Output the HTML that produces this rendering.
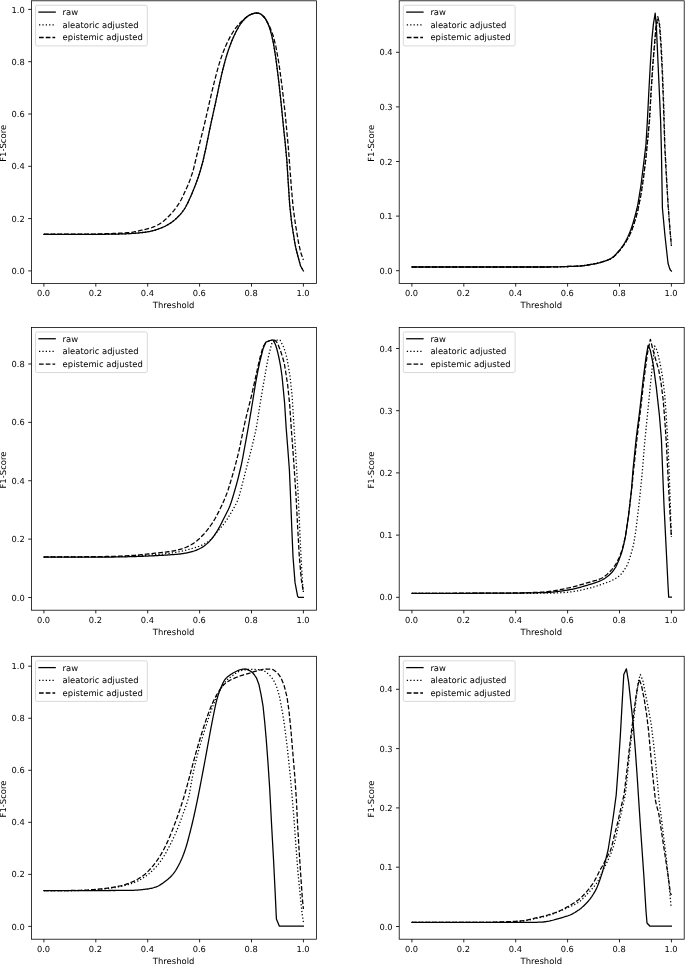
<!DOCTYPE html>
<html lang="en"><head><meta charset="utf-8"><title>F1-Score vs Threshold</title>
<style>html,body{margin:0;padding:0;background:#fff}svg{display:block}</style>
</head><body>
<svg width="685" height="964" viewBox="0 0 685 964" font-family="'DejaVu Sans', 'Liberation Sans', sans-serif" font-size="8.45" fill="#000" text-rendering="geometricPrecision">
<rect width="685" height="964" fill="#fff"/>
<g>
<g fill="none" stroke="#000" stroke-width="1.27" stroke-linejoin="round">
<path d="M43.90 234.40 L44.88 234.40 L45.85 234.40 L46.83 234.40 L47.80 234.40 L48.78 234.40 L49.75 234.40 L50.73 234.40 L51.71 234.40 L52.68 234.40 L53.66 234.40 L54.63 234.40 L55.61 234.40 L56.58 234.40 L57.56 234.40 L58.54 234.40 L59.51 234.40 L60.49 234.40 L61.46 234.40 L62.44 234.40 L63.41 234.40 L64.39 234.40 L65.36 234.40 L66.34 234.40 L67.32 234.40 L68.29 234.40 L69.27 234.40 L70.24 234.40 L71.22 234.40 L72.19 234.40 L73.17 234.40 L74.15 234.40 L75.12 234.40 L76.10 234.40 L77.07 234.40 L78.05 234.40 L79.02 234.40 L80.00 234.40 L81.00 234.40 L82.00 234.40 L83.00 234.40 L84.00 234.40 L85.00 234.39 L86.00 234.39 L87.00 234.39 L88.00 234.38 L89.00 234.38 L90.00 234.37 L91.00 234.37 L92.00 234.36 L93.00 234.36 L94.00 234.35 L95.00 234.34 L96.00 234.34 L97.00 234.33 L98.00 234.32 L99.00 234.31 L100.00 234.30 L101.00 234.29 L102.00 234.28 L103.00 234.27 L104.00 234.26 L105.00 234.25 L106.00 234.24 L107.00 234.23 L108.00 234.22 L109.00 234.21 L110.00 234.20 L111.00 234.19 L112.00 234.17 L113.00 234.16 L114.00 234.14 L115.00 234.12 L116.00 234.10 L117.00 234.07 L118.00 234.04 L119.00 234.02 L120.00 233.99 L121.00 233.96 L122.00 233.92 L123.00 233.89 L124.00 233.85 L125.00 233.81 L126.00 233.77 L127.00 233.73 L128.00 233.69 L129.00 233.65 L130.00 233.60 L130.97 233.55 L131.95 233.49 L132.93 233.43 L133.90 233.35 L134.88 233.28 L135.85 233.19 L136.82 233.10 L137.80 233.01 L138.77 232.91 L139.75 232.81 L140.72 232.71 L141.70 232.60 L142.62 232.50 L143.54 232.39 L144.47 232.27 L145.39 232.15 L146.31 232.02 L147.23 231.88 L148.16 231.73 L149.08 231.57 L150.00 231.40 L151.00 231.19 L152.00 230.96 L153.00 230.70 L154.00 230.43 L155.00 230.13 L156.00 229.81 L157.00 229.48 L158.00 229.13 L159.00 228.77 L160.00 228.40 L161.00 228.01 L162.00 227.60 L163.00 227.17 L164.00 226.71 L165.00 226.23 L166.00 225.71 L167.00 225.18 L168.00 224.61 L169.00 224.02 L170.00 223.40 L171.00 222.74 L172.00 222.03 L173.00 221.27 L174.00 220.46 L175.00 219.61 L176.00 218.71 L177.00 217.77 L178.00 216.78 L179.00 215.76 L180.00 214.70 L181.00 213.57 L182.00 212.33 L183.00 210.99 L184.00 209.55 L185.00 208.00 L186.00 206.30 L187.00 204.41 L188.00 202.39 L189.00 200.27 L190.00 198.10 L190.90 196.10 L191.80 194.02 L192.70 191.86 L193.60 189.63 L194.50 187.35 L195.40 185.00 L196.32 182.55 L197.24 180.03 L198.16 177.42 L199.08 174.68 L200.00 171.80 L203.00 161.00 L205.50 150.00 L206.40 145.74 L207.30 141.31 L208.20 136.82 L209.10 132.35 L210.00 128.00 L210.95 123.57 L211.90 119.22 L212.85 114.93 L213.80 110.65 L214.75 106.35 L215.70 102.00 L216.64 97.59 L217.58 93.10 L218.52 88.61 L219.46 84.22 L220.40 80.00 L221.28 76.18 L222.16 72.42 L223.04 68.77 L223.92 65.28 L224.80 62.00 L225.74 58.69 L226.68 55.52 L227.62 52.51 L228.56 49.67 L229.50 47.00 L230.48 44.36 L231.47 41.84 L232.45 39.44 L233.43 37.16 L234.42 35.01 L235.40 33.00 L236.29 31.27 L237.17 29.59 L238.06 27.98 L238.94 26.45 L239.83 25.02 L240.71 23.69 L241.60 22.50 L242.51 21.36 L243.43 20.27 L244.34 19.24 L245.26 18.29 L246.17 17.42 L247.09 16.66 L248.00 16.00 L249.00 15.38 L250.00 14.84 L251.00 14.38 L252.00 14.00 L253.00 13.66 L254.00 13.33 L255.00 13.09 L256.00 13.00 L259.00 13.40 L260.00 13.75 L261.00 14.32 L262.00 15.09 L263.00 16.00 L264.00 17.00 L264.90 18.09 L265.80 19.47 L266.70 21.10 L267.60 22.96 L268.50 25.00 L269.45 27.53 L270.40 30.58 L271.35 34.09 L272.30 38.00 L273.18 42.15 L274.05 46.97 L274.93 52.30 L275.80 58.00 L278.60 80.00 L281.20 104.00 L284.00 132.00 L285.00 141.00 L286.80 160.00 L288.20 182.00 L289.70 205.00 L291.80 224.00 L295.00 244.00 L295.85 247.95 L296.70 251.48 L297.55 254.77 L298.40 258.00 L300.60 266.00 L303.40 271.00" stroke-linecap="square"/>
<path d="M43.90 234.40 L44.88 234.40 L45.85 234.40 L46.83 234.40 L47.80 234.40 L48.78 234.40 L49.75 234.40 L50.73 234.40 L51.71 234.40 L52.68 234.40 L53.66 234.40 L54.63 234.40 L55.61 234.40 L56.58 234.40 L57.56 234.40 L58.54 234.40 L59.51 234.40 L60.49 234.40 L61.46 234.40 L62.44 234.40 L63.41 234.40 L64.39 234.40 L65.36 234.40 L66.34 234.40 L67.32 234.40 L68.29 234.40 L69.27 234.40 L70.24 234.40 L71.22 234.40 L72.19 234.40 L73.17 234.40 L74.15 234.40 L75.12 234.40 L76.10 234.40 L77.07 234.40 L78.05 234.40 L79.02 234.40 L80.00 234.40 L81.00 234.40 L82.00 234.40 L83.00 234.40 L84.00 234.40 L85.00 234.39 L86.00 234.39 L87.00 234.39 L88.00 234.38 L89.00 234.38 L90.00 234.37 L91.00 234.37 L92.00 234.36 L93.00 234.36 L94.00 234.35 L95.00 234.34 L96.00 234.34 L97.00 234.33 L98.00 234.32 L99.00 234.31 L100.00 234.30 L101.00 234.29 L102.00 234.28 L103.00 234.27 L104.00 234.26 L105.00 234.25 L106.00 234.24 L107.00 234.23 L108.00 234.22 L109.00 234.21 L110.00 234.20 L111.00 234.19 L112.00 234.17 L113.00 234.16 L114.00 234.14 L115.00 234.12 L116.00 234.10 L117.00 234.07 L118.00 234.04 L119.00 234.02 L120.00 233.99 L121.00 233.96 L122.00 233.92 L123.00 233.89 L124.00 233.85 L125.00 233.81 L126.00 233.77 L127.00 233.73 L128.00 233.69 L129.00 233.65 L130.00 233.60 L130.97 233.55 L131.95 233.49 L132.93 233.43 L133.90 233.35 L134.88 233.28 L135.85 233.19 L136.82 233.10 L137.80 233.01 L138.77 232.91 L139.75 232.81 L140.72 232.71 L141.70 232.60 L142.62 232.50 L143.54 232.39 L144.47 232.27 L145.39 232.15 L146.31 232.02 L147.23 231.88 L148.16 231.73 L149.08 231.57 L150.00 231.40 L151.00 231.19 L152.00 230.96 L153.00 230.70 L154.00 230.43 L155.00 230.13 L156.00 229.81 L157.00 229.48 L158.00 229.13 L159.00 228.77 L160.00 228.40 L161.00 228.01 L162.00 227.60 L163.00 227.17 L164.00 226.71 L165.00 226.23 L166.00 225.71 L167.00 225.18 L168.00 224.61 L169.00 224.02 L170.00 223.40 L171.00 222.74 L172.00 222.03 L173.00 221.27 L174.00 220.46 L175.00 219.61 L176.00 218.71 L177.00 217.77 L178.00 216.78 L179.00 215.76 L180.00 214.70 L181.00 213.57 L182.00 212.33 L183.00 210.99 L184.00 209.55 L185.00 208.00 L186.00 206.30 L187.00 204.41 L188.00 202.39 L189.00 200.27 L190.00 198.10 L190.90 196.10 L191.80 194.02 L192.70 191.86 L193.60 189.63 L194.50 187.35 L195.40 185.00 L196.32 182.55 L197.24 180.03 L198.16 177.42 L199.08 174.68 L200.00 171.80 L203.00 161.00 L205.50 150.00 L206.40 145.74 L207.30 141.31 L208.20 136.82 L209.10 132.35 L210.00 128.00 L210.95 123.57 L211.90 119.22 L212.85 114.93 L213.80 110.65 L214.75 106.35 L215.70 102.00 L216.64 97.59 L217.58 93.10 L218.52 88.61 L219.46 84.22 L220.40 80.00 L221.28 76.18 L222.16 72.42 L223.04 68.77 L223.92 65.28 L224.80 62.00 L225.74 58.69 L226.68 55.52 L227.62 52.51 L228.56 49.67 L229.50 47.00 L230.48 44.36 L231.47 41.84 L232.45 39.44 L233.43 37.16 L234.42 35.01 L235.40 33.00 L236.29 31.27 L237.17 29.59 L238.06 27.98 L238.94 26.45 L239.83 25.02 L240.71 23.69 L241.60 22.50 L242.51 21.36 L243.43 20.27 L244.34 19.24 L245.26 18.29 L246.17 17.42 L247.09 16.66 L248.00 16.00 L249.00 15.38 L250.00 14.84 L251.00 14.38 L252.00 14.00 L253.00 13.66 L254.00 13.33 L255.00 13.09 L256.00 13.00 L259.00 13.40 L260.00 13.75 L261.00 14.32 L262.00 15.09 L263.00 16.00 L264.00 17.00 L264.90 18.09 L265.80 19.47 L266.70 21.10 L267.60 22.96 L268.50 25.00 L269.45 27.53 L270.40 30.58 L271.35 34.09 L272.30 38.00 L273.18 42.15 L274.05 46.97 L274.93 52.30 L275.80 58.00 L278.60 80.00 L281.20 104.00 L284.00 132.00 L285.00 141.00 L286.80 160.00 L288.20 182.00 L289.70 205.00 L291.80 224.00 L295.00 244.00 L295.85 247.95 L296.70 251.48 L297.55 254.77 L298.40 258.00 L300.60 266.00 L303.40 271.00" stroke-linecap="butt" stroke-dasharray="1.27 2.10"/>
<path d="M43.90 234.20 L44.88 234.20 L45.85 234.20 L46.83 234.20 L47.80 234.20 L48.78 234.20 L49.75 234.20 L50.73 234.20 L51.71 234.20 L52.68 234.20 L53.66 234.20 L54.63 234.20 L55.61 234.20 L56.58 234.20 L57.56 234.20 L58.54 234.20 L59.51 234.20 L60.49 234.20 L61.46 234.20 L62.44 234.20 L63.41 234.20 L64.39 234.20 L65.36 234.20 L66.34 234.20 L67.32 234.20 L68.29 234.20 L69.27 234.20 L70.24 234.20 L71.22 234.20 L72.19 234.20 L73.17 234.20 L74.15 234.20 L75.12 234.20 L76.10 234.20 L77.07 234.20 L78.05 234.20 L79.02 234.20 L80.00 234.20 L81.00 234.20 L82.00 234.20 L83.00 234.19 L84.00 234.18 L85.00 234.18 L86.00 234.17 L87.00 234.16 L88.00 234.14 L89.00 234.13 L90.00 234.11 L91.00 234.09 L92.00 234.08 L93.00 234.06 L94.00 234.04 L95.00 234.01 L96.00 233.99 L97.00 233.97 L98.00 233.94 L99.00 233.92 L100.00 233.89 L101.00 233.86 L102.00 233.84 L103.00 233.81 L104.00 233.78 L105.00 233.75 L106.00 233.72 L107.00 233.69 L108.00 233.66 L109.00 233.63 L110.00 233.60 L111.00 233.57 L112.00 233.54 L113.00 233.50 L114.00 233.47 L115.00 233.43 L116.00 233.39 L117.00 233.34 L118.00 233.30 L119.00 233.25 L120.00 233.20 L121.00 233.15 L122.00 233.09 L123.00 233.03 L124.00 232.97 L125.00 232.90 L126.00 232.83 L127.00 232.75 L128.00 232.67 L129.00 232.59 L130.00 232.50 L130.97 232.40 L131.95 232.27 L132.93 232.11 L133.90 231.94 L134.88 231.74 L135.85 231.54 L136.82 231.32 L137.80 231.10 L138.77 230.87 L139.75 230.64 L140.72 230.42 L141.70 230.20 L142.62 230.00 L143.54 229.80 L144.47 229.61 L145.39 229.40 L146.31 229.19 L147.23 228.97 L148.16 228.73 L149.08 228.48 L150.00 228.20 L151.00 227.87 L152.00 227.51 L153.00 227.12 L154.00 226.71 L155.00 226.26 L156.00 225.78 L157.00 225.28 L158.00 224.75 L159.00 224.19 L160.00 223.60 L161.00 222.97 L162.00 222.27 L163.00 221.52 L164.00 220.71 L165.00 219.85 L166.00 218.95 L167.00 218.01 L168.00 217.04 L169.00 216.03 L170.00 215.00 L171.00 213.93 L172.00 212.82 L173.00 211.65 L174.00 210.43 L175.00 209.15 L176.00 207.81 L177.00 206.41 L178.00 204.94 L179.00 203.41 L180.00 201.80 L181.00 200.04 L182.00 198.07 L183.00 195.97 L184.00 193.79 L185.00 191.60 L186.00 189.42 L187.00 187.22 L188.00 184.93 L189.00 182.54 L190.00 180.00 L193.10 170.80 L195.70 160.00 L196.56 156.40 L197.42 152.77 L198.28 149.15 L199.14 145.55 L200.00 142.00 L200.90 138.37 L201.80 134.81 L202.70 131.27 L203.60 127.68 L204.50 124.00 L205.42 120.11 L206.33 116.12 L207.25 112.06 L208.17 108.00 L209.08 103.96 L210.00 100.00 L210.96 95.89 L211.92 91.79 L212.88 87.74 L213.84 83.79 L214.80 80.00 L215.73 76.41 L216.67 72.86 L217.60 69.41 L218.53 66.08 L219.47 62.93 L220.40 60.00 L221.29 57.39 L222.17 54.90 L223.06 52.51 L223.94 50.23 L224.83 48.05 L225.71 45.97 L226.60 44.00 L227.51 42.05 L228.43 40.17 L229.34 38.38 L230.26 36.66 L231.17 35.02 L232.09 33.47 L233.00 32.00 L234.00 30.48 L235.00 29.04 L236.00 27.67 L237.00 26.37 L238.00 25.15 L239.00 24.00 L240.00 22.92 L241.00 21.89 L242.00 20.91 L243.00 19.98 L244.00 19.11 L245.00 18.30 L245.92 17.58 L246.83 16.87 L247.75 16.19 L248.67 15.57 L249.58 15.03 L250.50 14.60 L251.42 14.22 L252.33 13.85 L253.25 13.52 L254.17 13.25 L255.08 13.07 L256.00 13.00 L259.00 13.40 L260.00 13.75 L261.00 14.34 L262.00 15.11 L263.00 16.01 L264.00 17.00 L264.96 18.14 L265.92 19.59 L266.88 21.26 L267.84 23.09 L268.80 25.00 L269.68 26.84 L270.56 28.84 L271.44 31.02 L272.32 33.40 L273.20 36.00 L275.80 46.00 L279.00 64.00 L282.00 86.00 L285.00 112.00 L286.90 132.00 L288.30 147.00 L289.60 164.00 L291.40 188.00 L293.20 208.00 L295.40 224.00 L298.40 242.00 L300.60 252.00 L303.40 260.00" stroke-linecap="butt" stroke-dasharray="4.70 2.03"/>
</g>
<rect x="31.4" y="0.8" width="285.20" height="282.60" fill="none" stroke="#000" stroke-width="0.78"/>
<g stroke="#000" stroke-width="0.85">
<line x1="43.90" y1="283.4" x2="43.90" y2="286.59999999999997"/>
<line x1="95.80" y1="283.4" x2="95.80" y2="286.59999999999997"/>
<line x1="147.70" y1="283.4" x2="147.70" y2="286.59999999999997"/>
<line x1="199.60" y1="283.4" x2="199.60" y2="286.59999999999997"/>
<line x1="251.50" y1="283.4" x2="251.50" y2="286.59999999999997"/>
<line x1="303.40" y1="283.4" x2="303.40" y2="286.59999999999997"/>
<line x1="31.4" y1="270.9" x2="28.2" y2="270.9"/>
<line x1="31.4" y1="218.6" x2="28.2" y2="218.6"/>
<line x1="31.4" y1="166.3" x2="28.2" y2="166.3"/>
<line x1="31.4" y1="114.0" x2="28.2" y2="114.0"/>
<line x1="31.4" y1="61.7" x2="28.2" y2="61.7"/>
<line x1="31.4" y1="9.4" x2="28.2" y2="9.4"/>
</g>
<g text-anchor="middle" font-size="8.3">
<text x="43.55" y="296.40">0.0</text>
<text x="95.45" y="296.40">0.2</text>
<text x="147.35" y="296.40">0.4</text>
<text x="199.25" y="296.40">0.6</text>
<text x="251.15" y="296.40">0.8</text>
<text x="303.05" y="296.40">1.0</text>
</g>
<g text-anchor="middle">
<text x="173.60" y="307.70">Threshold</text>
<text transform="translate(6.0 143.30) rotate(-90)">F1-Score</text>
</g>
<g text-anchor="end" font-size="8.3">
<text x="24.80" y="274.00">0.0</text>
<text x="24.80" y="221.70">0.2</text>
<text x="24.80" y="169.40">0.4</text>
<text x="24.80" y="117.10">0.6</text>
<text x="24.80" y="64.80">0.8</text>
<text x="24.80" y="12.50">1.0</text>
</g>
<rect x="35.50" y="5.30" width="111.8" height="40.6" rx="1.7" fill="#fff" fill-opacity="0.8" stroke="#ccc" stroke-opacity="0.8" stroke-width="0.93"/>
<line x1="39.00" y1="12.10" x2="55.20" y2="12.10" stroke="#000" stroke-width="1.27" stroke-linecap="square"/>
<text x="62.60" y="15.00">raw</text>
<line x1="39.00" y1="24.80" x2="55.20" y2="24.80" stroke="#000" stroke-width="1.27" stroke-linecap="butt" stroke-dasharray="1.27 2.10"/>
<text x="62.60" y="27.70">aleatoric adjusted</text>
<line x1="39.00" y1="37.50" x2="55.20" y2="37.50" stroke="#000" stroke-width="1.27" stroke-linecap="butt" stroke-dasharray="4.70 2.03"/>
<text x="62.60" y="40.40">epistemic adjusted</text>
</g>
<g>
<g fill="none" stroke="#000" stroke-width="1.27" stroke-linejoin="round">
<path d="M411.90 267.00 L412.89 267.00 L413.89 267.00 L414.88 267.00 L415.87 267.00 L416.87 267.00 L417.86 267.00 L418.85 267.00 L419.85 267.00 L420.84 267.00 L421.83 267.00 L422.83 267.00 L423.82 267.00 L424.81 267.00 L425.81 267.00 L426.80 267.00 L427.79 267.00 L428.79 267.00 L429.78 267.00 L430.78 267.00 L431.77 267.00 L432.76 267.00 L433.76 267.00 L434.75 267.00 L435.74 267.00 L436.74 267.00 L437.73 267.00 L438.72 267.00 L439.72 267.00 L440.71 267.00 L441.70 267.00 L442.70 267.00 L443.69 267.00 L444.68 267.00 L445.68 267.00 L446.67 267.00 L447.66 267.00 L448.66 267.00 L449.65 267.00 L450.64 267.00 L451.64 267.00 L452.63 267.00 L453.62 267.00 L454.62 267.00 L455.61 267.00 L456.60 267.00 L457.60 267.00 L458.59 267.00 L459.58 267.00 L460.58 267.00 L461.57 267.00 L462.56 267.00 L463.56 267.00 L464.55 267.00 L465.55 267.00 L466.54 267.00 L467.53 267.00 L468.53 267.00 L469.52 267.00 L470.51 267.00 L471.51 267.00 L472.50 267.00 L473.49 267.00 L474.49 267.00 L475.48 267.00 L476.47 267.00 L477.47 267.00 L478.46 267.00 L479.45 267.00 L480.45 267.00 L481.44 267.00 L482.43 267.00 L483.43 267.00 L484.42 267.00 L485.41 267.00 L486.41 267.00 L487.40 267.00 L488.39 267.00 L489.39 267.00 L490.38 267.00 L491.37 267.00 L492.37 267.00 L493.36 267.00 L494.35 267.00 L495.35 267.00 L496.34 267.00 L497.34 267.00 L498.33 267.00 L499.32 267.00 L500.32 267.00 L501.31 267.00 L502.30 267.00 L503.30 267.00 L504.29 267.00 L505.28 267.00 L506.28 267.00 L507.27 267.00 L508.26 267.00 L509.26 267.00 L510.25 267.00 L511.24 267.00 L512.24 267.00 L513.23 267.00 L514.22 267.00 L515.22 267.00 L516.21 267.00 L517.20 267.00 L518.20 267.00 L519.19 267.00 L520.18 267.00 L521.18 267.00 L522.17 267.00 L523.16 267.00 L524.16 267.00 L525.15 267.00 L526.14 267.00 L527.14 267.00 L528.13 267.00 L529.12 267.00 L530.12 267.00 L531.11 267.00 L532.11 267.00 L533.10 267.00 L534.09 267.00 L535.09 267.00 L536.08 267.00 L537.07 267.00 L538.07 267.00 L539.06 267.00 L540.05 267.00 L541.05 267.00 L542.04 267.00 L543.03 267.00 L544.03 267.00 L545.02 267.00 L546.01 267.00 L547.01 267.00 L548.00 267.00 L549.00 267.00 L550.00 266.99 L551.00 266.98 L552.00 266.97 L553.00 266.95 L554.00 266.93 L555.00 266.91 L556.00 266.89 L557.00 266.86 L558.00 266.83 L559.00 266.80 L560.00 266.77 L561.00 266.74 L562.00 266.70 L563.00 266.67 L564.00 266.63 L565.00 266.60 L566.00 266.57 L567.00 266.53 L568.00 266.50 L569.00 266.47 L570.00 266.44 L571.00 266.40 L572.00 266.37 L573.00 266.34 L574.00 266.30 L575.00 266.26 L576.00 266.22 L577.00 266.17 L578.00 266.12 L579.00 266.06 L580.00 266.00 L581.00 265.93 L582.00 265.83 L583.00 265.73 L584.00 265.60 L585.00 265.47 L586.00 265.32 L587.00 265.17 L588.00 265.00 L589.00 264.83 L590.00 264.66 L591.00 264.48 L592.00 264.30 L593.00 264.12 L594.00 263.93 L595.00 263.73 L596.00 263.52 L597.00 263.30 L598.00 263.06 L599.00 262.82 L600.00 262.56 L601.00 262.29 L602.00 262.01 L603.00 261.71 L604.00 261.40 L605.00 261.07 L606.00 260.71 L607.00 260.33 L608.00 259.91 L609.00 259.45 L610.00 258.95 L611.00 258.40 L612.00 257.80 L613.00 257.08 L614.00 256.21 L615.00 255.22 L616.00 254.15 L617.00 253.03 L618.00 251.90 L619.00 250.75 L620.00 249.56 L621.00 248.30 L622.00 246.97 L623.00 245.54 L624.00 244.00 L625.00 242.33 L626.00 240.51 L627.00 238.54 L628.00 236.44 L629.00 234.19 L630.00 231.80 L631.00 229.19 L632.00 226.30 L633.00 223.15 L634.00 219.80 L635.00 216.26 L636.00 212.45 L637.00 208.27 L638.00 203.60 L641.00 185.00 L643.60 164.00 L645.90 145.00 L647.40 120.40 L648.90 90.30 L650.40 63.20 L651.90 39.10 L653.40 24.10 L655.20 13.20 L656.40 27.10 L657.90 60.20 L659.40 93.30 L660.60 120.40 L661.40 150.00 L662.40 208.00 L665.00 236.00 L668.00 263.00 L668.85 266.06 L669.70 268.61 L670.55 270.35 L671.40 271.00" stroke-linecap="square"/>
<path d="M411.90 267.00 L412.89 267.00 L413.89 267.00 L414.88 267.00 L415.87 267.00 L416.87 267.00 L417.86 267.00 L418.85 267.00 L419.85 267.00 L420.84 267.00 L421.83 267.00 L422.83 267.00 L423.82 267.00 L424.81 267.00 L425.81 267.00 L426.80 267.00 L427.79 267.00 L428.79 267.00 L429.78 267.00 L430.78 267.00 L431.77 267.00 L432.76 267.00 L433.76 267.00 L434.75 267.00 L435.74 267.00 L436.74 267.00 L437.73 267.00 L438.72 267.00 L439.72 267.00 L440.71 267.00 L441.70 267.00 L442.70 267.00 L443.69 267.00 L444.68 267.00 L445.68 267.00 L446.67 267.00 L447.66 267.00 L448.66 267.00 L449.65 267.00 L450.64 267.00 L451.64 267.00 L452.63 267.00 L453.62 267.00 L454.62 267.00 L455.61 267.00 L456.60 267.00 L457.60 267.00 L458.59 267.00 L459.58 267.00 L460.58 267.00 L461.57 267.00 L462.56 267.00 L463.56 267.00 L464.55 267.00 L465.55 267.00 L466.54 267.00 L467.53 267.00 L468.53 267.00 L469.52 267.00 L470.51 267.00 L471.51 267.00 L472.50 267.00 L473.49 267.00 L474.49 267.00 L475.48 267.00 L476.47 267.00 L477.47 267.00 L478.46 267.00 L479.45 267.00 L480.45 267.00 L481.44 267.00 L482.43 267.00 L483.43 267.00 L484.42 267.00 L485.41 267.00 L486.41 267.00 L487.40 267.00 L488.39 267.00 L489.39 267.00 L490.38 267.00 L491.37 267.00 L492.37 267.00 L493.36 267.00 L494.35 267.00 L495.35 267.00 L496.34 267.00 L497.34 267.00 L498.33 267.00 L499.32 267.00 L500.32 267.00 L501.31 267.00 L502.30 267.00 L503.30 267.00 L504.29 267.00 L505.28 267.00 L506.28 267.00 L507.27 267.00 L508.26 267.00 L509.26 267.00 L510.25 267.00 L511.24 267.00 L512.24 267.00 L513.23 267.00 L514.22 267.00 L515.22 267.00 L516.21 267.00 L517.20 267.00 L518.20 267.00 L519.19 267.00 L520.18 267.00 L521.18 267.00 L522.17 267.00 L523.16 267.00 L524.16 267.00 L525.15 267.00 L526.14 267.00 L527.14 267.00 L528.13 267.00 L529.12 267.00 L530.12 267.00 L531.11 267.00 L532.11 267.00 L533.10 267.00 L534.09 267.00 L535.09 267.00 L536.08 267.00 L537.07 267.00 L538.07 267.00 L539.06 267.00 L540.05 267.00 L541.05 267.00 L542.04 267.00 L543.03 267.00 L544.03 267.00 L545.02 267.00 L546.01 267.00 L547.01 267.00 L548.00 267.00 L549.00 267.00 L550.00 266.99 L551.00 266.98 L552.00 266.97 L553.00 266.95 L554.00 266.93 L555.00 266.91 L556.00 266.89 L557.00 266.86 L558.00 266.83 L559.00 266.80 L560.00 266.77 L561.00 266.74 L562.00 266.70 L563.00 266.67 L564.00 266.63 L565.00 266.60 L566.00 266.57 L567.00 266.53 L568.00 266.50 L569.00 266.47 L570.00 266.44 L571.00 266.40 L572.00 266.37 L573.00 266.34 L574.00 266.30 L575.00 266.26 L576.00 266.22 L577.00 266.17 L578.00 266.12 L579.00 266.06 L580.00 266.00 L581.00 265.93 L582.00 265.83 L583.00 265.73 L584.00 265.60 L585.00 265.47 L586.00 265.32 L587.00 265.17 L588.00 265.00 L589.00 264.83 L590.00 264.66 L591.00 264.48 L592.00 264.30 L593.00 264.12 L594.00 263.92 L595.00 263.72 L596.00 263.51 L597.00 263.29 L598.00 263.05 L599.00 262.81 L600.00 262.55 L601.00 262.28 L602.00 262.00 L603.00 261.71 L604.00 261.40 L605.00 261.08 L606.00 260.74 L607.00 260.37 L608.00 259.98 L609.00 259.55 L610.00 259.08 L611.00 258.57 L612.00 258.00 L613.00 257.32 L614.00 256.50 L615.00 255.56 L616.00 254.54 L617.00 253.48 L618.00 252.40 L619.00 251.29 L620.00 250.13 L621.00 248.90 L622.00 247.60 L623.00 246.23 L624.00 244.80 L625.00 243.30 L626.00 241.72 L627.00 240.04 L628.00 238.26 L629.00 236.35 L630.00 234.30 L631.00 232.03 L632.00 229.49 L633.00 226.74 L634.00 223.80 L635.00 220.67 L636.00 217.29 L637.00 213.61 L638.00 209.60 L641.00 194.50 L643.60 177.00 L645.90 158.00 L647.80 140.00 L649.60 120.40 L651.30 90.30 L653.10 63.20 L654.60 45.20 L656.20 28.00 L658.50 18.60 L659.90 26.00 L661.30 45.20 L662.70 75.30 L663.80 105.40 L664.90 145.00 L666.20 170.00 L668.10 204.00 L670.00 230.00 L671.40 246.00" stroke-linecap="butt" stroke-dasharray="1.27 2.10"/>
<path d="M411.90 267.00 L412.89 267.00 L413.89 267.00 L414.88 267.00 L415.87 267.00 L416.87 267.00 L417.86 267.00 L418.85 267.00 L419.85 267.00 L420.84 267.00 L421.83 267.00 L422.83 267.00 L423.82 267.00 L424.81 267.00 L425.81 267.00 L426.80 267.00 L427.79 267.00 L428.79 267.00 L429.78 267.00 L430.78 267.00 L431.77 267.00 L432.76 267.00 L433.76 267.00 L434.75 267.00 L435.74 267.00 L436.74 267.00 L437.73 267.00 L438.72 267.00 L439.72 267.00 L440.71 267.00 L441.70 267.00 L442.70 267.00 L443.69 267.00 L444.68 267.00 L445.68 267.00 L446.67 267.00 L447.66 267.00 L448.66 267.00 L449.65 267.00 L450.64 267.00 L451.64 267.00 L452.63 267.00 L453.62 267.00 L454.62 267.00 L455.61 267.00 L456.60 267.00 L457.60 267.00 L458.59 267.00 L459.58 267.00 L460.58 267.00 L461.57 267.00 L462.56 267.00 L463.56 267.00 L464.55 267.00 L465.55 267.00 L466.54 267.00 L467.53 267.00 L468.53 267.00 L469.52 267.00 L470.51 267.00 L471.51 267.00 L472.50 267.00 L473.49 267.00 L474.49 267.00 L475.48 267.00 L476.47 267.00 L477.47 267.00 L478.46 267.00 L479.45 267.00 L480.45 267.00 L481.44 267.00 L482.43 267.00 L483.43 267.00 L484.42 267.00 L485.41 267.00 L486.41 267.00 L487.40 267.00 L488.39 267.00 L489.39 267.00 L490.38 267.00 L491.37 267.00 L492.37 267.00 L493.36 267.00 L494.35 267.00 L495.35 267.00 L496.34 267.00 L497.34 267.00 L498.33 267.00 L499.32 267.00 L500.32 267.00 L501.31 267.00 L502.30 267.00 L503.30 267.00 L504.29 267.00 L505.28 267.00 L506.28 267.00 L507.27 267.00 L508.26 267.00 L509.26 267.00 L510.25 267.00 L511.24 267.00 L512.24 267.00 L513.23 267.00 L514.22 267.00 L515.22 267.00 L516.21 267.00 L517.20 267.00 L518.20 267.00 L519.19 267.00 L520.18 267.00 L521.18 267.00 L522.17 267.00 L523.16 267.00 L524.16 267.00 L525.15 267.00 L526.14 267.00 L527.14 267.00 L528.13 267.00 L529.12 267.00 L530.12 267.00 L531.11 267.00 L532.11 267.00 L533.10 267.00 L534.09 267.00 L535.09 267.00 L536.08 267.00 L537.07 267.00 L538.07 267.00 L539.06 267.00 L540.05 267.00 L541.05 267.00 L542.04 267.00 L543.03 267.00 L544.03 267.00 L545.02 267.00 L546.01 267.00 L547.01 267.00 L548.00 267.00 L549.00 267.00 L550.00 266.99 L551.00 266.98 L552.00 266.97 L553.00 266.95 L554.00 266.93 L555.00 266.91 L556.00 266.89 L557.00 266.86 L558.00 266.83 L559.00 266.80 L560.00 266.77 L561.00 266.74 L562.00 266.70 L563.00 266.67 L564.00 266.63 L565.00 266.60 L566.00 266.57 L567.00 266.53 L568.00 266.50 L569.00 266.47 L570.00 266.44 L571.00 266.40 L572.00 266.37 L573.00 266.34 L574.00 266.30 L575.00 266.26 L576.00 266.22 L577.00 266.17 L578.00 266.12 L579.00 266.06 L580.00 266.00 L581.00 265.93 L582.00 265.83 L583.00 265.73 L584.00 265.60 L585.00 265.47 L586.00 265.32 L587.00 265.17 L588.00 265.00 L589.00 264.83 L590.00 264.66 L591.00 264.48 L592.00 264.30 L593.00 264.12 L594.00 263.92 L595.00 263.72 L596.00 263.51 L597.00 263.29 L598.00 263.05 L599.00 262.81 L600.00 262.55 L601.00 262.28 L602.00 262.00 L603.00 261.71 L604.00 261.40 L605.00 261.08 L606.00 260.74 L607.00 260.37 L608.00 259.98 L609.00 259.55 L610.00 259.08 L611.00 258.57 L612.00 258.00 L613.00 257.32 L614.00 256.50 L615.00 255.56 L616.00 254.54 L617.00 253.48 L618.00 252.40 L619.00 251.29 L620.00 250.13 L621.00 248.90 L622.00 247.60 L623.00 246.23 L624.00 244.80 L625.00 243.30 L626.00 241.72 L627.00 240.04 L628.00 238.26 L629.00 236.35 L630.00 234.30 L631.00 232.03 L632.00 229.49 L633.00 226.74 L634.00 223.80 L635.00 220.67 L636.00 217.29 L637.00 213.61 L638.00 209.60 L641.00 194.50 L643.60 177.00 L645.90 158.00 L647.60 140.00 L649.40 120.40 L651.10 90.30 L652.90 63.20 L654.40 45.20 L655.90 27.10 L657.80 16.60 L659.40 24.00 L660.90 45.20 L662.40 75.30 L663.50 105.40 L664.70 145.00 L666.00 170.00 L668.00 204.00 L670.00 230.00 L671.40 246.00" stroke-linecap="butt" stroke-dasharray="4.70 2.03"/>
</g>
<rect x="399.2" y="0.8" width="285.00" height="282.60" fill="none" stroke="#000" stroke-width="0.78"/>
<g stroke="#000" stroke-width="0.85">
<line x1="411.90" y1="283.4" x2="411.90" y2="286.59999999999997"/>
<line x1="463.80" y1="283.4" x2="463.80" y2="286.59999999999997"/>
<line x1="515.70" y1="283.4" x2="515.70" y2="286.59999999999997"/>
<line x1="567.60" y1="283.4" x2="567.60" y2="286.59999999999997"/>
<line x1="619.50" y1="283.4" x2="619.50" y2="286.59999999999997"/>
<line x1="671.40" y1="283.4" x2="671.40" y2="286.59999999999997"/>
<line x1="399.2" y1="270.7" x2="396.0" y2="270.7"/>
<line x1="399.2" y1="216.1" x2="396.0" y2="216.1"/>
<line x1="399.2" y1="161.5" x2="396.0" y2="161.5"/>
<line x1="399.2" y1="106.9" x2="396.0" y2="106.9"/>
<line x1="399.2" y1="52.3" x2="396.0" y2="52.3"/>
</g>
<g text-anchor="middle" font-size="8.3">
<text x="411.55" y="296.40">0.0</text>
<text x="463.45" y="296.40">0.2</text>
<text x="515.35" y="296.40">0.4</text>
<text x="567.25" y="296.40">0.6</text>
<text x="619.15" y="296.40">0.8</text>
<text x="671.05" y="296.40">1.0</text>
</g>
<g text-anchor="middle">
<text x="541.30" y="307.70">Threshold</text>
<text transform="translate(373.7 143.30) rotate(-90)">F1-Score</text>
</g>
<g text-anchor="end" font-size="8.3">
<text x="392.60" y="273.80">0.0</text>
<text x="392.60" y="219.20">0.1</text>
<text x="392.60" y="164.60">0.2</text>
<text x="392.60" y="110.00">0.3</text>
<text x="392.60" y="55.40">0.4</text>
</g>
<rect x="403.30" y="5.30" width="111.8" height="40.6" rx="1.7" fill="#fff" fill-opacity="0.8" stroke="#ccc" stroke-opacity="0.8" stroke-width="0.93"/>
<line x1="406.80" y1="12.10" x2="423.00" y2="12.10" stroke="#000" stroke-width="1.27" stroke-linecap="square"/>
<text x="430.40" y="15.00">raw</text>
<line x1="406.80" y1="24.80" x2="423.00" y2="24.80" stroke="#000" stroke-width="1.27" stroke-linecap="butt" stroke-dasharray="1.27 2.10"/>
<text x="430.40" y="27.70">aleatoric adjusted</text>
<line x1="406.80" y1="37.50" x2="423.00" y2="37.50" stroke="#000" stroke-width="1.27" stroke-linecap="butt" stroke-dasharray="4.70 2.03"/>
<text x="430.40" y="40.40">epistemic adjusted</text>
</g>
<g>
<g fill="none" stroke="#000" stroke-width="1.27" stroke-linejoin="round">
<path d="M43.90 557.10 L44.89 557.10 L45.87 557.10 L46.86 557.10 L47.85 557.10 L48.84 557.10 L49.82 557.10 L50.81 557.10 L51.80 557.10 L52.78 557.10 L53.77 557.10 L54.76 557.10 L55.75 557.10 L56.73 557.10 L57.72 557.10 L58.71 557.10 L59.69 557.10 L60.68 557.10 L61.67 557.09 L62.66 557.09 L63.64 557.09 L64.63 557.09 L65.62 557.09 L66.60 557.09 L67.59 557.09 L68.58 557.09 L69.57 557.09 L70.55 557.09 L71.54 557.09 L72.53 557.09 L73.51 557.08 L74.50 557.08 L75.49 557.08 L76.48 557.08 L77.46 557.08 L78.45 557.08 L79.44 557.08 L80.42 557.07 L81.41 557.07 L82.40 557.07 L83.39 557.07 L84.37 557.07 L85.36 557.07 L86.35 557.07 L87.33 557.06 L88.32 557.06 L89.31 557.06 L90.30 557.06 L91.28 557.06 L92.27 557.05 L93.26 557.05 L94.24 557.05 L95.23 557.05 L96.22 557.05 L97.21 557.04 L98.19 557.04 L99.18 557.04 L100.17 557.04 L101.15 557.03 L102.14 557.03 L103.13 557.03 L104.12 557.03 L105.10 557.02 L106.09 557.02 L107.08 557.02 L108.06 557.02 L109.05 557.01 L110.04 557.01 L111.03 557.01 L112.01 557.00 L113.00 557.00 L114.00 557.00 L115.00 556.99 L116.00 556.98 L117.00 556.97 L118.00 556.95 L119.00 556.94 L120.00 556.92 L121.00 556.90 L122.00 556.88 L123.00 556.86 L124.00 556.84 L125.00 556.81 L126.00 556.79 L127.00 556.76 L128.00 556.73 L129.00 556.71 L130.00 556.68 L131.00 556.65 L132.00 556.63 L133.00 556.60 L134.00 556.57 L135.00 556.54 L136.00 556.51 L137.00 556.48 L138.00 556.45 L139.00 556.41 L140.00 556.37 L141.00 556.33 L142.00 556.29 L143.00 556.25 L144.00 556.21 L145.00 556.17 L146.00 556.12 L147.00 556.08 L148.00 556.03 L149.00 555.99 L150.00 555.94 L151.00 555.90 L152.00 555.85 L153.00 555.80 L154.00 555.75 L155.00 555.70 L156.00 555.65 L157.00 555.60 L158.00 555.55 L159.00 555.49 L160.00 555.44 L161.00 555.38 L162.00 555.32 L163.00 555.26 L164.00 555.20 L165.00 555.14 L166.00 555.08 L167.00 555.01 L168.00 554.95 L169.00 554.88 L170.00 554.81 L171.00 554.74 L172.00 554.67 L173.00 554.60 L174.00 554.53 L175.00 554.45 L176.00 554.38 L177.00 554.30 L178.00 554.21 L179.00 554.11 L180.00 554.00 L181.00 553.88 L182.00 553.74 L183.00 553.58 L184.00 553.41 L185.00 553.23 L186.00 553.03 L187.00 552.82 L188.00 552.60 L189.00 552.36 L190.00 552.11 L191.00 551.85 L192.00 551.58 L193.00 551.30 L194.00 551.00 L195.00 550.66 L196.00 550.29 L197.00 549.88 L198.00 549.45 L199.00 548.98 L200.00 548.48 L201.00 547.96 L202.00 547.40 L202.90 546.86 L203.80 546.25 L204.70 545.59 L205.60 544.88 L206.50 544.12 L207.40 543.32 L208.30 542.48 L209.20 541.60 L210.11 540.65 L211.02 539.62 L211.94 538.51 L212.85 537.34 L213.76 536.11 L214.68 534.82 L215.59 533.48 L216.50 532.10 L217.41 530.64 L218.32 529.08 L219.24 527.43 L220.15 525.70 L221.06 523.93 L221.98 522.13 L222.89 520.31 L223.80 518.50 L224.69 516.77 L225.57 515.06 L226.46 513.32 L227.34 511.54 L228.23 509.66 L229.11 507.66 L230.00 505.50 L230.92 502.99 L231.84 500.20 L232.76 497.22 L233.68 494.12 L234.60 491.00 L235.50 487.92 L236.40 484.73 L237.30 481.43 L238.20 478.00 L241.30 465.00 L242.20 460.58 L243.10 455.83 L244.00 450.92 L244.90 446.00 L245.85 440.85 L246.80 435.66 L247.75 430.38 L248.70 425.00 L249.62 419.63 L250.55 414.14 L251.47 408.58 L252.40 403.00 L253.30 397.44 L254.20 391.77 L255.10 386.21 L256.00 381.00 L257.00 375.60 L258.00 370.46 L259.00 365.58 L260.00 361.00 L263.00 349.00 L265.60 342.40 L268.00 341.20 L270.50 340.50 L273.00 339.90 L275.20 344.00 L276.10 346.48 L277.00 349.53 L277.90 353.07 L278.80 357.00 L279.62 361.03 L280.45 365.68 L281.28 370.98 L282.10 377.00 L284.60 403.00 L286.10 427.00 L287.90 450.00 L289.40 470.00 L290.50 495.50 L291.70 526.00 L293.00 556.50 L295.00 582.40 L297.60 596.20 L298.50 597.30 L299.48 597.30 L300.46 597.30 L301.44 597.30 L302.42 597.30 L303.40 597.30" stroke-linecap="square"/>
<path d="M43.90 557.00 L44.89 557.00 L45.87 557.00 L46.86 557.00 L47.85 557.00 L48.84 557.00 L49.82 557.00 L50.81 557.00 L51.80 556.99 L52.78 556.99 L53.77 556.99 L54.76 556.99 L55.75 556.99 L56.73 556.98 L57.72 556.98 L58.71 556.98 L59.69 556.98 L60.68 556.97 L61.67 556.97 L62.66 556.97 L63.64 556.96 L64.63 556.96 L65.62 556.96 L66.60 556.95 L67.59 556.95 L68.58 556.95 L69.57 556.94 L70.55 556.94 L71.54 556.93 L72.53 556.93 L73.51 556.92 L74.50 556.92 L75.49 556.91 L76.48 556.91 L77.46 556.90 L78.45 556.89 L79.44 556.89 L80.42 556.88 L81.41 556.88 L82.40 556.87 L83.39 556.86 L84.37 556.86 L85.36 556.85 L86.35 556.84 L87.33 556.84 L88.32 556.83 L89.31 556.82 L90.30 556.81 L91.28 556.81 L92.27 556.80 L93.26 556.79 L94.24 556.78 L95.23 556.77 L96.22 556.76 L97.21 556.76 L98.19 556.75 L99.18 556.74 L100.17 556.73 L101.15 556.72 L102.14 556.71 L103.13 556.70 L104.12 556.69 L105.10 556.68 L106.09 556.67 L107.08 556.66 L108.06 556.65 L109.05 556.64 L110.04 556.63 L111.03 556.62 L112.01 556.61 L113.00 556.60 L114.00 556.59 L115.00 556.57 L116.00 556.56 L117.00 556.54 L118.00 556.52 L119.00 556.50 L120.00 556.47 L121.00 556.45 L122.00 556.42 L123.00 556.39 L124.00 556.36 L125.00 556.33 L126.00 556.29 L127.00 556.26 L128.00 556.22 L129.00 556.18 L130.00 556.14 L131.00 556.10 L132.00 556.06 L133.00 556.01 L134.00 555.97 L135.00 555.92 L136.00 555.87 L137.00 555.82 L138.00 555.77 L139.00 555.72 L140.00 555.67 L141.00 555.61 L142.00 555.56 L143.00 555.50 L144.00 555.45 L145.00 555.39 L146.00 555.33 L147.00 555.27 L148.00 555.21 L149.00 555.15 L150.00 555.09 L151.00 555.03 L152.00 554.96 L153.00 554.90 L154.00 554.83 L155.00 554.76 L156.00 554.69 L157.00 554.61 L158.00 554.53 L159.00 554.44 L160.00 554.35 L161.00 554.25 L162.00 554.16 L163.00 554.05 L164.00 553.94 L165.00 553.83 L166.00 553.72 L167.00 553.60 L168.00 553.47 L169.00 553.35 L170.00 553.22 L171.00 553.08 L172.00 552.94 L173.00 552.80 L174.00 552.65 L175.00 552.49 L176.00 552.32 L177.00 552.14 L178.00 551.95 L179.00 551.75 L180.00 551.54 L181.00 551.32 L182.00 551.09 L183.00 550.86 L184.00 550.62 L185.00 550.37 L186.00 550.12 L187.00 549.86 L188.00 549.59 L189.00 549.32 L190.00 549.05 L191.00 548.77 L192.00 548.49 L193.00 548.20 L194.00 547.91 L195.00 547.61 L196.00 547.29 L197.00 546.97 L198.00 546.63 L199.00 546.27 L200.00 545.88 L201.00 545.48 L202.00 545.05 L203.00 544.60 L204.00 544.11 L205.00 543.58 L206.00 543.01 L207.00 542.40 L208.00 541.73 L209.00 541.01 L210.00 540.23 L211.00 539.40 L212.00 538.42 L213.00 537.25 L214.00 535.96 L215.00 534.62 L216.00 533.27 L217.00 532.00 L217.94 530.88 L218.88 529.79 L219.81 528.71 L220.75 527.64 L221.69 526.54 L222.62 525.42 L223.56 524.24 L224.50 523.00 L225.50 521.60 L226.50 520.14 L227.50 518.61 L228.50 517.03 L229.50 515.40 L230.50 513.72 L231.50 512.00 L232.46 510.36 L233.41 508.74 L234.37 507.07 L235.33 505.32 L236.29 503.42 L237.24 501.33 L238.20 499.00 L239.08 496.41 L239.96 493.32 L240.84 489.93 L241.72 486.42 L242.60 483.00 L243.52 479.47 L244.44 475.86 L245.36 472.20 L246.28 468.57 L247.20 465.00 L250.00 454.50 L250.90 450.98 L251.80 447.40 L252.70 443.74 L253.60 440.00 L255.80 430.40 L256.68 425.60 L257.56 420.21 L258.44 414.51 L259.32 408.78 L260.20 403.30 L261.08 398.06 L261.96 392.86 L262.84 387.73 L263.72 382.68 L264.60 377.70 L265.44 372.92 L266.28 368.11 L267.12 363.42 L267.96 359.00 L268.80 355.00 L271.80 343.50 L272.75 342.25 L273.70 341.25 L274.65 340.57 L275.60 340.30 L276.50 340.26 L277.40 340.24 L278.30 340.22 L279.20 340.20 L280.10 340.20 L283.10 346.00 L284.05 348.41 L285.00 351.17 L285.95 354.34 L286.90 358.00 L290.00 376.00 L292.10 395.70 L293.70 421.30 L295.20 445.40 L296.70 470.00 L298.20 495.50 L299.60 526.00 L301.00 556.50 L302.30 579.40 L303.40 592.50" stroke-linecap="butt" stroke-dasharray="1.27 2.10"/>
<path d="M43.90 556.90 L44.89 556.90 L45.87 556.90 L46.86 556.90 L47.85 556.90 L48.84 556.90 L49.82 556.90 L50.81 556.90 L51.80 556.89 L52.78 556.89 L53.77 556.89 L54.76 556.89 L55.75 556.89 L56.73 556.88 L57.72 556.88 L58.71 556.88 L59.69 556.87 L60.68 556.87 L61.67 556.87 L62.66 556.86 L63.64 556.86 L64.63 556.86 L65.62 556.85 L66.60 556.85 L67.59 556.84 L68.58 556.84 L69.57 556.83 L70.55 556.83 L71.54 556.82 L72.53 556.82 L73.51 556.81 L74.50 556.80 L75.49 556.80 L76.48 556.79 L77.46 556.78 L78.45 556.78 L79.44 556.77 L80.42 556.76 L81.41 556.75 L82.40 556.75 L83.39 556.74 L84.37 556.73 L85.36 556.72 L86.35 556.71 L87.33 556.70 L88.32 556.70 L89.31 556.69 L90.30 556.68 L91.28 556.67 L92.27 556.66 L93.26 556.65 L94.24 556.64 L95.23 556.63 L96.22 556.62 L97.21 556.60 L98.19 556.59 L99.18 556.58 L100.17 556.57 L101.15 556.56 L102.14 556.55 L103.13 556.53 L104.12 556.52 L105.10 556.51 L106.09 556.50 L107.08 556.48 L108.06 556.47 L109.05 556.46 L110.04 556.44 L111.03 556.43 L112.01 556.41 L113.00 556.40 L114.00 556.38 L115.00 556.36 L116.00 556.33 L117.00 556.30 L118.00 556.27 L119.00 556.22 L120.00 556.18 L121.00 556.13 L122.00 556.08 L123.00 556.03 L124.00 555.97 L125.00 555.92 L126.00 555.86 L127.00 555.79 L128.00 555.73 L129.00 555.67 L130.00 555.60 L131.00 555.53 L132.00 555.47 L133.00 555.40 L134.00 555.33 L135.00 555.26 L136.00 555.18 L137.00 555.09 L138.00 555.00 L139.00 554.91 L140.00 554.81 L141.00 554.71 L142.00 554.61 L143.00 554.51 L144.00 554.40 L145.00 554.29 L146.00 554.18 L147.00 554.07 L148.00 553.96 L149.00 553.84 L150.00 553.73 L151.00 553.62 L152.00 553.51 L153.00 553.40 L154.00 553.29 L155.00 553.19 L156.00 553.08 L157.00 552.98 L158.00 552.88 L159.00 552.78 L160.00 552.67 L161.00 552.57 L162.00 552.46 L163.00 552.36 L164.00 552.24 L165.00 552.13 L166.00 552.01 L167.00 551.88 L168.00 551.75 L169.00 551.62 L170.00 551.48 L171.00 551.32 L172.00 551.17 L173.00 551.00 L174.00 550.82 L175.00 550.62 L176.00 550.40 L177.00 550.16 L178.00 549.91 L179.00 549.64 L180.00 549.35 L181.00 549.05 L182.00 548.73 L183.00 548.40 L184.00 548.05 L185.00 547.67 L186.00 547.26 L187.00 546.82 L188.00 546.35 L189.00 545.85 L190.00 545.33 L191.00 544.78 L192.00 544.20 L193.00 543.60 L194.00 542.95 L195.00 542.25 L196.00 541.49 L197.00 540.68 L198.00 539.82 L199.00 538.93 L200.00 537.99 L201.00 537.02 L202.00 536.02 L203.00 535.00 L204.00 533.94 L205.00 532.82 L206.00 531.64 L207.00 530.42 L208.00 529.14 L209.00 527.81 L210.00 526.43 L211.00 525.00 L212.00 523.52 L213.00 522.00 L214.00 520.40 L215.00 518.70 L216.00 516.91 L217.00 515.04 L218.00 513.11 L219.00 511.12 L220.00 509.08 L221.00 507.00 L222.00 504.89 L223.00 502.72 L224.00 500.47 L225.00 498.11 L226.00 495.63 L227.00 493.00 L228.00 490.14 L229.00 487.03 L230.00 483.75 L231.00 480.39 L232.00 477.00 L232.85 474.11 L233.70 471.16 L234.55 468.13 L235.40 465.00 L236.28 461.67 L237.15 458.25 L238.03 454.69 L238.90 451.00 L239.77 447.10 L240.64 442.98 L241.51 438.71 L242.39 434.40 L243.26 430.11 L244.13 425.95 L245.00 422.00 L245.91 418.09 L246.83 414.35 L247.74 410.71 L248.66 407.11 L249.57 403.50 L250.49 399.81 L251.40 396.00 L252.34 391.92 L253.28 387.73 L254.22 383.49 L255.16 379.23 L256.10 375.00 L257.03 370.79 L257.95 366.52 L258.88 362.37 L259.80 358.50 L263.00 347.00 L264.00 345.29 L265.00 343.91 L266.00 342.82 L267.00 342.00 L270.00 340.50 L271.00 340.31 L272.00 340.15 L273.00 340.04 L274.00 340.00 L274.95 340.33 L275.90 341.20 L276.85 342.42 L277.80 343.80 L280.90 352.00 L281.85 354.91 L282.80 358.02 L283.75 361.51 L284.70 365.60 L287.70 385.20 L289.70 404.80 L291.40 430.40 L292.90 450.00 L294.30 470.00 L296.00 495.50 L297.60 526.00 L299.30 556.50 L301.30 579.40 L303.40 592.00" stroke-linecap="butt" stroke-dasharray="4.70 2.03"/>
</g>
<rect x="31.4" y="327.45" width="285.20" height="282.75" fill="none" stroke="#000" stroke-width="0.78"/>
<g stroke="#000" stroke-width="0.85">
<line x1="43.90" y1="610.2" x2="43.90" y2="613.4000000000001"/>
<line x1="95.80" y1="610.2" x2="95.80" y2="613.4000000000001"/>
<line x1="147.70" y1="610.2" x2="147.70" y2="613.4000000000001"/>
<line x1="199.60" y1="610.2" x2="199.60" y2="613.4000000000001"/>
<line x1="251.50" y1="610.2" x2="251.50" y2="613.4000000000001"/>
<line x1="303.40" y1="610.2" x2="303.40" y2="613.4000000000001"/>
<line x1="31.4" y1="597.5" x2="28.2" y2="597.5"/>
<line x1="31.4" y1="539.12" x2="28.2" y2="539.12"/>
<line x1="31.4" y1="480.74" x2="28.2" y2="480.74"/>
<line x1="31.4" y1="422.36" x2="28.2" y2="422.36"/>
<line x1="31.4" y1="363.98" x2="28.2" y2="363.98"/>
</g>
<g text-anchor="middle" font-size="8.3">
<text x="43.55" y="623.20">0.0</text>
<text x="95.45" y="623.20">0.2</text>
<text x="147.35" y="623.20">0.4</text>
<text x="199.25" y="623.20">0.6</text>
<text x="251.15" y="623.20">0.8</text>
<text x="303.05" y="623.20">1.0</text>
</g>
<g text-anchor="middle">
<text x="173.60" y="634.50">Threshold</text>
<text transform="translate(6.0 470.03) rotate(-90)">F1-Score</text>
</g>
<g text-anchor="end" font-size="8.3">
<text x="24.80" y="600.60">0.0</text>
<text x="24.80" y="542.22">0.2</text>
<text x="24.80" y="483.84">0.4</text>
<text x="24.80" y="425.46">0.6</text>
<text x="24.80" y="367.08">0.8</text>
</g>
<rect x="35.50" y="331.95" width="111.8" height="40.6" rx="1.7" fill="#fff" fill-opacity="0.8" stroke="#ccc" stroke-opacity="0.8" stroke-width="0.93"/>
<line x1="39.00" y1="338.75" x2="55.20" y2="338.75" stroke="#000" stroke-width="1.27" stroke-linecap="square"/>
<text x="62.60" y="341.65">raw</text>
<line x1="39.00" y1="351.45" x2="55.20" y2="351.45" stroke="#000" stroke-width="1.27" stroke-linecap="butt" stroke-dasharray="1.27 2.10"/>
<text x="62.60" y="354.35">aleatoric adjusted</text>
<line x1="39.00" y1="364.15" x2="55.20" y2="364.15" stroke="#000" stroke-width="1.27" stroke-linecap="butt" stroke-dasharray="4.70 2.03"/>
<text x="62.60" y="367.05">epistemic adjusted</text>
</g>
<g>
<g fill="none" stroke="#000" stroke-width="1.27" stroke-linejoin="round">
<path d="M411.90 593.30 L412.89 593.30 L413.88 593.30 L414.87 593.30 L415.86 593.30 L416.85 593.30 L417.84 593.30 L418.83 593.30 L419.82 593.30 L420.81 593.30 L421.80 593.30 L422.79 593.30 L423.78 593.30 L424.77 593.30 L425.76 593.30 L426.75 593.30 L427.74 593.30 L428.73 593.30 L429.72 593.30 L430.71 593.30 L431.70 593.30 L432.69 593.29 L433.68 593.29 L434.67 593.29 L435.66 593.29 L436.65 593.29 L437.64 593.29 L438.63 593.29 L439.62 593.29 L440.61 593.29 L441.60 593.29 L442.59 593.29 L443.58 593.29 L444.57 593.29 L445.56 593.29 L446.55 593.28 L447.54 593.28 L448.53 593.28 L449.52 593.28 L450.51 593.28 L451.50 593.28 L452.49 593.28 L453.48 593.28 L454.47 593.28 L455.46 593.28 L456.44 593.28 L457.43 593.27 L458.42 593.27 L459.41 593.27 L460.40 593.27 L461.39 593.27 L462.38 593.27 L463.37 593.27 L464.36 593.27 L465.35 593.26 L466.34 593.26 L467.33 593.26 L468.32 593.26 L469.31 593.26 L470.30 593.26 L471.29 593.26 L472.28 593.25 L473.27 593.25 L474.26 593.25 L475.25 593.25 L476.24 593.25 L477.23 593.25 L478.22 593.24 L479.21 593.24 L480.20 593.24 L481.19 593.24 L482.18 593.24 L483.17 593.24 L484.16 593.23 L485.15 593.23 L486.14 593.23 L487.13 593.23 L488.12 593.23 L489.11 593.22 L490.10 593.22 L491.09 593.22 L492.08 593.22 L493.07 593.22 L494.06 593.21 L495.05 593.21 L496.04 593.21 L497.03 593.21 L498.02 593.20 L499.01 593.20 L500.00 593.20 L501.00 593.20 L502.00 593.19 L503.00 593.19 L504.00 593.19 L505.00 593.18 L506.00 593.18 L507.00 593.17 L508.00 593.16 L509.00 593.16 L510.00 593.15 L511.00 593.14 L512.00 593.13 L513.00 593.12 L514.00 593.11 L515.00 593.10 L516.00 593.09 L517.00 593.08 L518.00 593.07 L519.00 593.06 L520.00 593.04 L521.00 593.03 L522.00 593.02 L523.00 593.00 L524.00 592.99 L525.00 592.97 L526.00 592.96 L527.00 592.94 L528.00 592.93 L529.00 592.91 L530.00 592.89 L531.00 592.87 L532.00 592.86 L533.00 592.84 L534.00 592.82 L535.00 592.80 L536.00 592.78 L537.00 592.76 L538.00 592.74 L539.00 592.72 L540.00 592.70 L541.00 592.68 L542.00 592.65 L543.00 592.62 L544.00 592.58 L545.00 592.54 L546.00 592.50 L547.00 592.45 L548.00 592.40 L549.00 592.34 L550.00 592.28 L551.00 592.20 L552.00 592.12 L553.00 592.03 L554.00 591.93 L555.00 591.82 L556.00 591.71 L557.00 591.60 L558.00 591.47 L559.00 591.34 L560.00 591.21 L561.00 591.07 L562.00 590.93 L563.00 590.78 L564.00 590.63 L565.00 590.48 L566.00 590.32 L567.00 590.16 L568.00 590.00 L569.00 589.83 L570.00 589.65 L571.00 589.46 L572.00 589.26 L573.00 589.04 L574.00 588.82 L575.00 588.58 L576.00 588.34 L577.00 588.09 L578.00 587.84 L579.00 587.57 L580.00 587.30 L581.00 587.03 L582.00 586.75 L583.00 586.47 L584.00 586.18 L585.00 585.89 L586.00 585.59 L587.00 585.30 L588.00 585.00 L589.00 584.70 L590.00 584.41 L591.00 584.11 L592.00 583.80 L593.00 583.49 L594.00 583.17 L595.00 582.84 L596.00 582.49 L597.00 582.13 L598.00 581.75 L599.00 581.35 L600.00 580.93 L601.00 580.48 L602.00 580.00 L603.00 579.48 L604.00 578.91 L605.00 578.27 L606.00 577.59 L607.00 576.85 L608.00 576.05 L609.00 575.20 L610.00 574.30 L611.00 573.32 L612.00 572.23 L613.00 571.01 L614.00 569.68 L615.00 568.21 L616.00 566.60 L619.20 559.40 L621.50 553.00 L622.34 550.07 L623.18 546.83 L624.02 543.25 L624.86 539.31 L625.70 535.00 L628.60 515.00 L631.40 491.00 L633.00 470.00 L636.10 439.30 L637.05 431.37 L638.00 424.05 L638.95 416.82 L639.90 409.20 L640.83 401.10 L641.75 392.60 L642.67 384.14 L643.60 376.10 L645.90 358.10 L648.10 345.30 L650.40 350.60 L653.40 365.60 L656.40 388.20 L659.40 415.30 L661.40 439.30 L662.60 470.00 L664.00 505.00 L666.00 545.00 L668.00 585.00 L668.70 597.20 L671.40 597.20" stroke-linecap="square"/>
<path d="M411.90 593.40 L412.89 593.40 L413.88 593.40 L414.87 593.40 L415.86 593.40 L416.85 593.40 L417.84 593.40 L418.83 593.40 L419.82 593.40 L420.81 593.39 L421.80 593.39 L422.79 593.39 L423.78 593.39 L424.77 593.39 L425.76 593.39 L426.75 593.39 L427.74 593.39 L428.73 593.39 L429.72 593.39 L430.71 593.39 L431.70 593.39 L432.69 593.39 L433.68 593.38 L434.67 593.38 L435.66 593.38 L436.65 593.38 L437.64 593.38 L438.63 593.38 L439.62 593.38 L440.61 593.38 L441.60 593.38 L442.59 593.38 L443.58 593.37 L444.57 593.37 L445.56 593.37 L446.55 593.37 L447.54 593.37 L448.53 593.37 L449.52 593.37 L450.51 593.37 L451.50 593.37 L452.49 593.36 L453.48 593.36 L454.47 593.36 L455.46 593.36 L456.44 593.36 L457.43 593.36 L458.42 593.36 L459.41 593.36 L460.40 593.36 L461.39 593.35 L462.38 593.35 L463.37 593.35 L464.36 593.35 L465.35 593.35 L466.34 593.35 L467.33 593.35 L468.32 593.35 L469.31 593.34 L470.30 593.34 L471.29 593.34 L472.28 593.34 L473.27 593.34 L474.26 593.34 L475.25 593.34 L476.24 593.33 L477.23 593.33 L478.22 593.33 L479.21 593.33 L480.20 593.33 L481.19 593.33 L482.18 593.33 L483.17 593.32 L484.16 593.32 L485.15 593.32 L486.14 593.32 L487.13 593.32 L488.12 593.32 L489.11 593.32 L490.10 593.31 L491.09 593.31 L492.08 593.31 L493.07 593.31 L494.06 593.31 L495.05 593.31 L496.04 593.31 L497.03 593.30 L498.02 593.30 L499.01 593.30 L500.00 593.30 L501.00 593.30 L502.00 593.30 L503.00 593.30 L504.00 593.29 L505.00 593.29 L506.00 593.29 L507.00 593.29 L508.00 593.29 L509.00 593.29 L510.00 593.29 L511.00 593.29 L512.00 593.28 L513.00 593.28 L514.00 593.28 L515.00 593.28 L516.00 593.28 L517.00 593.28 L518.00 593.28 L519.00 593.28 L520.00 593.27 L521.00 593.27 L522.00 593.27 L523.00 593.27 L524.00 593.27 L525.00 593.27 L526.00 593.27 L527.00 593.26 L528.00 593.26 L529.00 593.26 L530.00 593.26 L531.00 593.26 L532.00 593.25 L533.00 593.25 L534.00 593.25 L535.00 593.25 L536.00 593.24 L537.00 593.24 L538.00 593.24 L539.00 593.23 L540.00 593.23 L541.00 593.23 L542.00 593.22 L543.00 593.22 L544.00 593.22 L545.00 593.21 L546.00 593.21 L547.00 593.20 L548.00 593.20 L549.00 593.19 L550.00 593.18 L551.00 593.16 L552.00 593.13 L553.00 593.10 L554.00 593.07 L555.00 593.03 L556.00 592.99 L557.00 592.94 L558.00 592.88 L559.00 592.83 L560.00 592.77 L561.00 592.71 L562.00 592.64 L563.00 592.57 L564.00 592.50 L565.00 592.43 L566.00 592.35 L567.00 592.28 L568.00 592.20 L569.00 592.11 L570.00 592.01 L571.00 591.90 L572.00 591.77 L573.00 591.63 L574.00 591.47 L575.00 591.31 L576.00 591.13 L577.00 590.95 L578.00 590.76 L579.00 590.55 L580.00 590.35 L581.00 590.13 L582.00 589.91 L583.00 589.68 L584.00 589.45 L585.00 589.21 L586.00 588.97 L587.00 588.73 L588.00 588.49 L589.00 588.24 L590.00 588.00 L590.97 587.76 L591.95 587.50 L592.92 587.22 L593.89 586.94 L594.87 586.64 L595.84 586.34 L596.81 586.02 L597.79 585.70 L598.76 585.37 L599.73 585.03 L600.71 584.69 L601.68 584.35 L602.65 584.00 L603.63 583.65 L604.60 583.30 L605.51 582.97 L606.42 582.64 L607.34 582.30 L608.25 581.96 L609.16 581.60 L610.08 581.22 L610.99 580.82 L611.90 580.40 L612.81 579.96 L613.73 579.50 L614.64 579.02 L615.55 578.51 L616.46 577.96 L617.38 577.36 L618.29 576.71 L619.20 576.00 L620.08 575.20 L620.96 574.25 L621.84 573.19 L622.72 572.06 L623.60 570.90 L626.50 566.50 L627.40 564.57 L628.30 562.29 L629.20 559.73 L630.10 557.00 L631.02 554.04 L631.95 550.81 L632.88 547.20 L633.80 543.10 L635.80 531.00 L637.00 521.00 L639.60 499.00 L642.40 471.00 L644.40 445.40 L647.40 415.30 L650.40 385.20 L652.70 362.60 L654.70 346.00 L657.20 350.60 L660.20 364.10 L662.40 376.20 L664.70 394.20 L666.20 415.30 L667.70 439.30 L669.00 468.00 L670.00 495.00 L670.80 521.00 L671.40 537.00" stroke-linecap="butt" stroke-dasharray="1.27 2.10"/>
<path d="M411.90 593.30 L412.89 593.30 L413.88 593.30 L414.87 593.30 L415.86 593.30 L416.85 593.30 L417.84 593.30 L418.83 593.30 L419.82 593.30 L420.81 593.30 L421.80 593.30 L422.79 593.30 L423.78 593.30 L424.77 593.30 L425.76 593.30 L426.75 593.29 L427.74 593.29 L428.73 593.29 L429.72 593.29 L430.71 593.29 L431.70 593.29 L432.69 593.29 L433.68 593.29 L434.67 593.29 L435.66 593.29 L436.65 593.28 L437.64 593.28 L438.63 593.28 L439.62 593.28 L440.61 593.28 L441.60 593.28 L442.59 593.28 L443.58 593.27 L444.57 593.27 L445.56 593.27 L446.55 593.27 L447.54 593.27 L448.53 593.27 L449.52 593.26 L450.51 593.26 L451.50 593.26 L452.49 593.26 L453.48 593.26 L454.47 593.25 L455.46 593.25 L456.44 593.25 L457.43 593.25 L458.42 593.24 L459.41 593.24 L460.40 593.24 L461.39 593.24 L462.38 593.23 L463.37 593.23 L464.36 593.23 L465.35 593.23 L466.34 593.22 L467.33 593.22 L468.32 593.22 L469.31 593.22 L470.30 593.21 L471.29 593.21 L472.28 593.21 L473.27 593.20 L474.26 593.20 L475.25 593.20 L476.24 593.19 L477.23 593.19 L478.22 593.19 L479.21 593.18 L480.20 593.18 L481.19 593.18 L482.18 593.17 L483.17 593.17 L484.16 593.17 L485.15 593.16 L486.14 593.16 L487.13 593.15 L488.12 593.15 L489.11 593.15 L490.10 593.14 L491.09 593.14 L492.08 593.13 L493.07 593.13 L494.06 593.13 L495.05 593.12 L496.04 593.12 L497.03 593.11 L498.02 593.11 L499.01 593.10 L500.00 593.10 L501.00 593.09 L502.00 593.09 L503.00 593.08 L504.00 593.07 L505.00 593.07 L506.00 593.06 L507.00 593.04 L508.00 593.03 L509.00 593.02 L510.00 593.01 L511.00 592.99 L512.00 592.98 L513.00 592.96 L514.00 592.94 L515.00 592.93 L516.00 592.91 L517.00 592.89 L518.00 592.87 L519.00 592.85 L520.00 592.82 L521.00 592.80 L522.00 592.78 L523.00 592.75 L524.00 592.73 L525.00 592.70 L526.00 592.67 L527.00 592.64 L528.00 592.61 L529.00 592.58 L530.00 592.55 L531.00 592.52 L532.00 592.49 L533.00 592.46 L534.00 592.42 L535.00 592.39 L536.00 592.35 L537.00 592.31 L538.00 592.28 L539.00 592.24 L540.00 592.20 L541.00 592.16 L542.00 592.10 L543.00 592.03 L544.00 591.96 L545.00 591.88 L546.00 591.79 L547.00 591.70 L548.00 591.60 L549.00 591.49 L550.00 591.38 L551.00 591.25 L552.00 591.11 L553.00 590.96 L554.00 590.80 L555.00 590.63 L556.00 590.46 L557.00 590.28 L558.00 590.09 L559.00 589.90 L560.00 589.70 L561.00 589.49 L562.00 589.29 L563.00 589.08 L564.00 588.86 L565.00 588.65 L566.00 588.43 L567.00 588.22 L568.00 588.00 L569.00 587.78 L570.00 587.55 L571.00 587.32 L572.00 587.08 L573.00 586.83 L574.00 586.57 L575.00 586.31 L576.00 586.05 L577.00 585.78 L578.00 585.51 L579.00 585.23 L580.00 584.94 L581.00 584.66 L582.00 584.37 L583.00 584.08 L584.00 583.79 L585.00 583.49 L586.00 583.20 L587.00 582.90 L588.00 582.60 L589.00 582.31 L590.00 582.03 L591.00 581.75 L592.00 581.48 L593.00 581.20 L594.00 580.92 L595.00 580.63 L596.00 580.33 L597.00 580.00 L598.00 579.66 L599.00 579.29 L600.00 578.90 L601.00 578.47 L602.00 578.00 L603.00 577.46 L604.00 576.81 L605.00 576.08 L606.00 575.27 L607.00 574.39 L608.00 573.46 L609.00 572.50 L610.00 571.50 L611.00 570.45 L612.00 569.32 L613.00 568.09 L614.00 566.76 L615.00 565.33 L616.00 563.80 L619.20 557.50 L621.50 551.50 L622.34 548.75 L623.18 545.71 L624.02 542.33 L624.86 538.61 L625.70 534.50 L628.60 515.00 L631.90 487.00 L633.60 470.00 L636.90 439.30 L637.83 431.53 L638.75 424.12 L639.67 416.77 L640.60 409.20 L641.55 400.96 L642.50 392.47 L643.45 384.07 L644.40 376.10 L647.40 353.60 L650.40 339.30 L652.70 349.00 L655.70 359.60 L658.70 370.00 L660.90 382.00 L663.20 400.00 L665.00 422.80 L666.50 445.40 L667.60 468.00 L669.00 495.00 L670.40 521.00 L671.40 537.00" stroke-linecap="butt" stroke-dasharray="4.70 2.03"/>
</g>
<rect x="399.2" y="327.45" width="285.00" height="282.75" fill="none" stroke="#000" stroke-width="0.78"/>
<g stroke="#000" stroke-width="0.85">
<line x1="411.90" y1="610.2" x2="411.90" y2="613.4000000000001"/>
<line x1="463.80" y1="610.2" x2="463.80" y2="613.4000000000001"/>
<line x1="515.70" y1="610.2" x2="515.70" y2="613.4000000000001"/>
<line x1="567.60" y1="610.2" x2="567.60" y2="613.4000000000001"/>
<line x1="619.50" y1="610.2" x2="619.50" y2="613.4000000000001"/>
<line x1="671.40" y1="610.2" x2="671.40" y2="613.4000000000001"/>
<line x1="399.2" y1="597.3" x2="396.0" y2="597.3"/>
<line x1="399.2" y1="535.1" x2="396.0" y2="535.1"/>
<line x1="399.2" y1="472.9" x2="396.0" y2="472.9"/>
<line x1="399.2" y1="410.7" x2="396.0" y2="410.7"/>
<line x1="399.2" y1="348.5" x2="396.0" y2="348.5"/>
</g>
<g text-anchor="middle" font-size="8.3">
<text x="411.55" y="623.20">0.0</text>
<text x="463.45" y="623.20">0.2</text>
<text x="515.35" y="623.20">0.4</text>
<text x="567.25" y="623.20">0.6</text>
<text x="619.15" y="623.20">0.8</text>
<text x="671.05" y="623.20">1.0</text>
</g>
<g text-anchor="middle">
<text x="541.30" y="634.50">Threshold</text>
<text transform="translate(373.7 470.03) rotate(-90)">F1-Score</text>
</g>
<g text-anchor="end" font-size="8.3">
<text x="392.60" y="600.40">0.0</text>
<text x="392.60" y="538.20">0.1</text>
<text x="392.60" y="476.00">0.2</text>
<text x="392.60" y="413.80">0.3</text>
<text x="392.60" y="351.60">0.4</text>
</g>
<rect x="403.30" y="331.95" width="111.8" height="40.6" rx="1.7" fill="#fff" fill-opacity="0.8" stroke="#ccc" stroke-opacity="0.8" stroke-width="0.93"/>
<line x1="406.80" y1="338.75" x2="423.00" y2="338.75" stroke="#000" stroke-width="1.27" stroke-linecap="square"/>
<text x="430.40" y="341.65">raw</text>
<line x1="406.80" y1="351.45" x2="423.00" y2="351.45" stroke="#000" stroke-width="1.27" stroke-linecap="butt" stroke-dasharray="1.27 2.10"/>
<text x="430.40" y="354.35">aleatoric adjusted</text>
<line x1="406.80" y1="364.15" x2="423.00" y2="364.15" stroke="#000" stroke-width="1.27" stroke-linecap="butt" stroke-dasharray="4.70 2.03"/>
<text x="430.40" y="367.05">epistemic adjusted</text>
</g>
<g>
<g fill="none" stroke="#000" stroke-width="1.27" stroke-linejoin="round">
<path d="M43.90 890.60 L44.89 890.60 L45.87 890.60 L46.86 890.60 L47.85 890.60 L48.83 890.60 L49.82 890.60 L50.81 890.60 L51.79 890.60 L52.78 890.60 L53.77 890.60 L54.75 890.60 L55.74 890.60 L56.73 890.60 L57.71 890.59 L58.70 890.59 L59.69 890.59 L60.67 890.59 L61.66 890.59 L62.64 890.59 L63.63 890.59 L64.62 890.59 L65.60 890.59 L66.59 890.59 L67.58 890.58 L68.56 890.58 L69.55 890.58 L70.54 890.58 L71.52 890.58 L72.51 890.58 L73.50 890.58 L74.48 890.58 L75.47 890.57 L76.46 890.57 L77.44 890.57 L78.43 890.57 L79.42 890.57 L80.40 890.57 L81.39 890.56 L82.38 890.56 L83.36 890.56 L84.35 890.56 L85.34 890.56 L86.32 890.55 L87.31 890.55 L88.30 890.55 L89.28 890.55 L90.27 890.55 L91.26 890.54 L92.24 890.54 L93.23 890.54 L94.21 890.54 L95.20 890.54 L96.19 890.53 L97.17 890.53 L98.16 890.53 L99.15 890.53 L100.13 890.52 L101.12 890.52 L102.11 890.52 L103.09 890.52 L104.08 890.51 L105.07 890.51 L106.05 890.51 L107.04 890.51 L108.03 890.51 L109.01 890.50 L110.00 890.50 L111.00 890.50 L112.00 890.49 L113.00 890.49 L114.00 890.49 L115.00 890.49 L116.00 890.48 L117.00 890.48 L118.00 890.48 L119.00 890.47 L120.00 890.47 L121.00 890.46 L122.00 890.46 L123.00 890.45 L124.00 890.45 L125.00 890.44 L126.00 890.43 L127.00 890.43 L128.00 890.42 L129.00 890.41 L130.00 890.40 L130.97 890.39 L131.94 890.36 L132.92 890.33 L133.89 890.29 L134.86 890.24 L135.83 890.18 L136.81 890.11 L137.78 890.04 L138.75 889.96 L139.72 889.87 L140.69 889.78 L141.67 889.68 L142.64 889.58 L143.61 889.47 L144.58 889.36 L145.56 889.24 L146.53 889.12 L147.50 889.00 L148.48 888.86 L149.46 888.69 L150.43 888.49 L151.41 888.27 L152.39 888.02 L153.37 887.75 L154.34 887.45 L155.32 887.14 L156.30 886.80 L157.27 886.42 L158.23 885.96 L159.20 885.45 L160.17 884.87 L161.13 884.25 L162.10 883.60 L163.07 882.92 L164.03 882.21 L165.00 881.50 L165.98 880.76 L166.96 879.99 L167.93 879.19 L168.91 878.33 L169.89 877.43 L170.87 876.47 L171.84 875.45 L172.82 874.36 L173.80 873.20 L174.74 871.94 L175.68 870.49 L176.62 868.91 L177.56 867.23 L178.50 865.50 L179.32 863.94 L180.14 862.31 L180.96 860.58 L181.78 858.75 L182.60 856.80 L183.57 854.29 L184.55 851.54 L185.53 848.61 L186.50 845.50 L187.38 842.51 L188.25 839.29 L189.12 835.93 L190.00 832.50 L190.84 829.17 L191.68 825.76 L192.52 822.26 L193.36 818.68 L194.20 815.00 L195.15 810.70 L196.10 806.24 L197.05 801.66 L198.00 797.00 L198.82 792.86 L199.65 788.61 L200.48 784.31 L201.30 780.00 L202.23 775.17 L203.15 770.32 L204.07 765.44 L205.00 760.50 L205.84 755.94 L206.68 751.32 L207.52 746.67 L208.36 742.05 L209.20 737.50 L210.02 733.09 L210.84 728.69 L211.66 724.35 L212.48 720.10 L213.30 716.00 L214.23 711.41 L215.15 706.88 L216.07 702.66 L217.00 699.00 L217.95 695.81 L218.90 692.95 L219.85 690.36 L220.80 688.00 L221.64 686.00 L222.48 684.07 L223.32 682.29 L224.16 680.74 L225.00 679.50 L226.00 678.34 L227.00 677.35 L228.00 676.49 L229.00 675.72 L230.00 675.00 L231.00 674.31 L232.00 673.67 L233.00 673.07 L234.00 672.51 L235.00 671.99 L236.00 671.50 L237.00 671.02 L238.00 670.55 L239.00 670.11 L240.00 669.75 L241.00 669.50 L242.00 669.32 L243.00 669.16 L244.00 669.04 L245.00 669.00 L246.00 669.12 L247.00 669.44 L248.00 669.86 L249.00 670.30 L252.00 672.10 L254.50 675.00 L256.40 677.80 L259.00 684.80 L261.20 695.30 L263.00 705.80 L264.70 722.00 L266.20 739.00 L268.00 763.00 L269.60 787.00 L271.60 825.00 L273.60 861.00 L275.00 889.00 L276.40 919.00 L279.40 926.20 L280.40 926.20 L281.40 926.20 L282.40 926.20 L283.40 926.20 L284.40 926.20 L285.40 926.20 L286.40 926.20 L287.40 926.20 L288.40 926.20 L289.40 926.20 L290.40 926.20 L291.40 926.20 L292.40 926.20 L293.40 926.20 L294.40 926.20 L295.40 926.20 L296.40 926.20 L297.40 926.20 L298.40 926.20 L299.40 926.20 L300.40 926.20 L301.40 926.20 L302.40 926.20 L303.40 926.20" stroke-linecap="square"/>
<path d="M43.90 890.60 L44.88 890.60 L45.85 890.60 L46.83 890.60 L47.80 890.60 L48.78 890.60 L49.75 890.60 L50.73 890.60 L51.71 890.60 L52.68 890.59 L53.66 890.59 L54.63 890.59 L55.61 890.59 L56.58 890.59 L57.56 890.59 L58.54 890.58 L59.51 890.58 L60.49 890.58 L61.46 890.58 L62.44 890.57 L63.41 890.57 L64.39 890.57 L65.36 890.57 L66.34 890.56 L67.32 890.56 L68.29 890.56 L69.27 890.55 L70.24 890.55 L71.22 890.54 L72.19 890.54 L73.17 890.54 L74.15 890.53 L75.12 890.53 L76.10 890.52 L77.07 890.52 L78.05 890.51 L79.02 890.51 L80.00 890.50 L81.00 890.49 L82.00 890.47 L83.00 890.45 L84.00 890.42 L85.00 890.39 L86.00 890.34 L87.00 890.30 L88.00 890.25 L89.00 890.19 L90.00 890.13 L91.00 890.07 L92.00 890.00 L93.00 889.93 L94.00 889.86 L95.00 889.79 L96.00 889.71 L97.00 889.64 L98.00 889.56 L99.00 889.48 L100.00 889.40 L101.00 889.32 L102.00 889.23 L103.00 889.13 L104.00 889.03 L105.00 888.92 L106.00 888.80 L107.00 888.68 L108.00 888.56 L109.00 888.42 L110.00 888.28 L111.00 888.14 L112.00 887.99 L113.00 887.83 L114.00 887.67 L115.00 887.50 L116.00 887.33 L117.00 887.16 L118.00 886.97 L119.00 886.79 L120.00 886.60 L121.00 886.40 L122.00 886.19 L123.00 885.96 L124.00 885.73 L125.00 885.47 L126.00 885.21 L127.00 884.93 L128.00 884.64 L129.00 884.33 L130.00 884.01 L131.00 883.68 L132.00 883.33 L133.00 882.97 L134.00 882.60 L135.00 882.20 L136.00 881.78 L137.00 881.32 L138.00 880.83 L139.00 880.31 L140.00 879.76 L141.00 879.19 L142.00 878.60 L143.00 877.98 L144.00 877.34 L145.00 876.68 L146.00 876.00 L147.00 875.29 L148.00 874.53 L149.00 873.74 L150.00 872.89 L151.00 872.01 L152.00 871.09 L153.00 870.12 L154.00 869.12 L155.00 868.08 L156.00 867.00 L157.00 865.86 L158.00 864.64 L159.00 863.35 L160.00 861.99 L161.00 860.56 L162.00 859.09 L163.00 857.56 L164.00 856.00 L165.00 854.36 L166.00 852.61 L167.00 850.79 L168.00 848.89 L169.00 846.96 L170.00 845.00 L170.94 843.14 L171.89 841.24 L172.83 839.31 L173.77 837.33 L174.71 835.29 L175.66 833.18 L176.60 831.00 L177.51 828.79 L178.43 826.49 L179.34 824.11 L180.26 821.66 L181.17 819.15 L182.09 816.59 L183.00 814.00 L183.89 811.54 L184.77 809.16 L185.66 806.75 L186.54 804.22 L187.43 801.49 L188.31 798.44 L189.20 795.00 L192.00 779.00 L192.90 774.54 L193.80 770.28 L194.70 766.21 L195.60 762.31 L196.50 758.58 L197.40 755.00 L198.31 751.53 L199.23 748.22 L200.14 745.03 L201.06 741.95 L201.97 738.93 L202.89 735.96 L203.80 733.00 L204.69 730.15 L205.57 727.33 L206.46 724.55 L207.34 721.83 L208.23 719.15 L209.11 716.54 L210.00 714.00 L210.92 711.41 L211.83 708.86 L212.75 706.37 L213.67 703.96 L214.58 701.66 L215.50 699.50 L216.42 697.46 L217.33 695.49 L218.25 693.61 L219.17 691.82 L220.08 690.11 L221.00 688.50 L222.00 686.80 L223.00 685.15 L224.00 683.60 L225.00 682.20 L226.00 681.00 L227.00 679.98 L228.00 679.06 L229.00 678.23 L230.00 677.46 L231.00 676.72 L232.00 676.00 L233.00 675.26 L234.00 674.51 L235.00 673.76 L236.00 673.04 L237.00 672.38 L238.00 671.80 L239.00 671.34 L240.00 671.00 L241.00 670.74 L242.00 670.50 L243.00 670.27 L244.00 670.06 L245.00 669.87 L246.00 669.71 L247.00 669.58 L248.00 669.48 L249.00 669.42 L250.00 669.40 L251.00 669.40 L252.00 669.41 L253.00 669.43 L254.00 669.45 L255.00 669.48 L256.00 669.52 L257.00 669.56 L258.00 669.60 L258.90 669.66 L259.80 669.77 L260.70 669.92 L261.60 670.09 L262.50 670.30 L263.37 670.59 L264.24 671.01 L265.11 671.53 L265.99 672.15 L266.86 672.83 L267.73 673.56 L268.60 674.30 L269.48 675.11 L270.36 676.04 L271.24 677.08 L272.12 678.23 L273.00 679.50 L273.88 680.92 L274.75 682.56 L275.62 684.42 L276.50 686.50 L279.20 695.30 L280.90 704.00 L282.70 713.70 L284.00 722.00 L287.00 745.00 L290.00 773.00 L292.40 800.00 L294.00 819.00 L296.00 847.00 L298.00 873.00 L300.00 893.00 L302.00 913.00 L303.40 922.00" stroke-linecap="butt" stroke-dasharray="1.27 2.10"/>
<path d="M43.90 890.60 L44.88 890.60 L45.85 890.60 L46.83 890.60 L47.80 890.60 L48.78 890.60 L49.75 890.59 L50.73 890.59 L51.71 890.59 L52.68 890.59 L53.66 890.59 L54.63 890.58 L55.61 890.58 L56.58 890.58 L57.56 890.57 L58.54 890.57 L59.51 890.56 L60.49 890.56 L61.46 890.55 L62.44 890.55 L63.41 890.54 L64.39 890.54 L65.36 890.53 L66.34 890.52 L67.32 890.52 L68.29 890.51 L69.27 890.50 L70.24 890.49 L71.22 890.49 L72.19 890.48 L73.17 890.47 L74.15 890.46 L75.12 890.45 L76.10 890.44 L77.07 890.43 L78.05 890.42 L79.02 890.41 L80.00 890.40 L81.00 890.38 L82.00 890.36 L83.00 890.33 L84.00 890.29 L85.00 890.24 L86.00 890.19 L87.00 890.12 L88.00 890.06 L89.00 889.99 L90.00 889.91 L91.00 889.83 L92.00 889.75 L93.00 889.66 L94.00 889.57 L95.00 889.48 L96.00 889.38 L97.00 889.29 L98.00 889.19 L99.00 889.10 L100.00 889.00 L101.00 888.90 L102.00 888.80 L103.00 888.69 L104.00 888.58 L105.00 888.46 L106.00 888.34 L107.00 888.21 L108.00 888.08 L109.00 887.94 L110.00 887.80 L111.00 887.64 L112.00 887.49 L113.00 887.33 L114.00 887.16 L115.00 886.98 L116.00 886.80 L117.00 886.61 L118.00 886.41 L119.00 886.21 L120.00 886.00 L121.00 885.77 L122.00 885.52 L123.00 885.25 L124.00 884.96 L125.00 884.65 L126.00 884.32 L127.00 883.97 L128.00 883.60 L129.00 883.22 L130.00 882.83 L131.00 882.42 L132.00 882.00 L133.00 881.56 L134.00 881.10 L135.00 880.61 L136.00 880.10 L137.00 879.56 L138.00 878.99 L139.00 878.39 L140.00 877.77 L141.00 877.12 L142.00 876.44 L143.00 875.74 L144.00 875.00 L145.00 874.21 L146.00 873.34 L147.00 872.40 L148.00 871.41 L149.00 870.36 L150.00 869.27 L151.00 868.15 L152.00 867.00 L153.00 865.81 L154.00 864.57 L155.00 863.28 L156.00 861.92 L157.00 860.52 L158.00 859.06 L159.00 857.56 L160.00 856.00 L161.00 854.37 L162.00 852.65 L163.00 850.85 L164.00 848.97 L165.00 847.02 L166.00 845.00 L167.00 842.88 L168.00 840.65 L169.00 838.33 L170.00 835.93 L171.00 833.48 L172.00 831.00 L173.00 828.48 L174.00 825.91 L175.00 823.27 L176.00 820.58 L177.00 817.82 L178.00 815.00 L178.93 812.33 L179.86 809.60 L180.79 806.82 L181.71 803.97 L182.64 801.06 L183.57 798.07 L184.50 795.00 L185.38 791.97 L186.26 788.80 L187.14 785.55 L188.02 782.27 L188.90 779.00 L189.81 775.59 L190.73 772.13 L191.64 768.64 L192.56 765.16 L193.47 761.70 L194.39 758.31 L195.30 755.00 L196.19 751.87 L197.07 748.77 L197.96 745.72 L198.84 742.72 L199.73 739.76 L200.61 736.85 L201.50 734.00 L202.40 731.14 L203.30 728.30 L204.20 725.50 L205.10 722.75 L206.00 720.08 L206.90 717.49 L207.80 715.00 L208.75 712.46 L209.70 709.97 L210.65 707.56 L211.60 705.25 L212.55 703.06 L213.50 701.00 L214.42 699.12 L215.33 697.32 L216.25 695.60 L217.17 693.97 L218.08 692.44 L219.00 691.00 L220.00 689.50 L221.00 688.06 L222.00 686.72 L223.00 685.52 L224.00 684.50 L225.00 683.63 L226.00 682.84 L227.00 682.12 L228.00 681.46 L229.00 680.86 L230.00 680.30 L231.00 679.77 L232.00 679.27 L233.00 678.79 L234.00 678.34 L235.00 677.91 L236.00 677.50 L237.00 677.11 L238.00 676.73 L239.00 676.36 L240.00 676.00 L241.00 675.66 L242.00 675.33 L243.00 675.02 L244.00 674.72 L245.00 674.43 L246.00 674.15 L247.00 673.87 L248.00 673.58 L249.00 673.30 L250.00 673.00 L251.00 672.69 L252.00 672.37 L253.00 672.04 L254.00 671.71 L255.00 671.39 L256.00 671.07 L257.00 670.77 L258.00 670.48 L259.00 670.23 L260.00 670.00 L261.00 669.78 L262.00 669.55 L263.00 669.34 L264.00 669.17 L265.00 669.05 L266.00 669.00 L267.00 669.01 L268.00 669.05 L269.00 669.11 L270.00 669.19 L271.00 669.28 L272.00 669.40 L273.00 669.67 L274.00 670.19 L275.00 670.90 L276.00 671.72 L277.00 672.60 L278.00 673.61 L279.00 674.87 L280.00 676.35 L281.00 678.00 L284.00 685.00 L287.00 697.00 L289.00 711.00 L291.00 731.00 L293.00 755.00 L295.00 779.00 L296.40 800.00 L297.60 825.00 L299.40 855.00 L301.00 879.00 L302.40 899.00 L303.40 909.00" stroke-linecap="butt" stroke-dasharray="4.70 2.03"/>
</g>
<rect x="31.4" y="656.3" width="285.20" height="282.90" fill="none" stroke="#000" stroke-width="0.78"/>
<g stroke="#000" stroke-width="0.85">
<line x1="43.90" y1="939.2" x2="43.90" y2="942.4000000000001"/>
<line x1="95.80" y1="939.2" x2="95.80" y2="942.4000000000001"/>
<line x1="147.70" y1="939.2" x2="147.70" y2="942.4000000000001"/>
<line x1="199.60" y1="939.2" x2="199.60" y2="942.4000000000001"/>
<line x1="251.50" y1="939.2" x2="251.50" y2="942.4000000000001"/>
<line x1="303.40" y1="939.2" x2="303.40" y2="942.4000000000001"/>
<line x1="31.4" y1="926.4" x2="28.2" y2="926.4"/>
<line x1="31.4" y1="874.36" x2="28.2" y2="874.36"/>
<line x1="31.4" y1="822.32" x2="28.2" y2="822.32"/>
<line x1="31.4" y1="770.28" x2="28.2" y2="770.28"/>
<line x1="31.4" y1="718.24" x2="28.2" y2="718.24"/>
<line x1="31.4" y1="666.2" x2="28.2" y2="666.2"/>
</g>
<g text-anchor="middle" font-size="8.3">
<text x="43.55" y="952.20">0.0</text>
<text x="95.45" y="952.20">0.2</text>
<text x="147.35" y="952.20">0.4</text>
<text x="199.25" y="952.20">0.6</text>
<text x="251.15" y="952.20">0.8</text>
<text x="303.05" y="952.20">1.0</text>
</g>
<g text-anchor="middle">
<text x="173.60" y="963.50">Threshold</text>
<text transform="translate(6.0 798.95) rotate(-90)">F1-Score</text>
</g>
<g text-anchor="end" font-size="8.3">
<text x="24.80" y="929.50">0.0</text>
<text x="24.80" y="877.46">0.2</text>
<text x="24.80" y="825.42">0.4</text>
<text x="24.80" y="773.38">0.6</text>
<text x="24.80" y="721.34">0.8</text>
<text x="24.80" y="669.30">1.0</text>
</g>
<rect x="35.50" y="660.80" width="111.8" height="40.6" rx="1.7" fill="#fff" fill-opacity="0.8" stroke="#ccc" stroke-opacity="0.8" stroke-width="0.93"/>
<line x1="39.00" y1="667.60" x2="55.20" y2="667.60" stroke="#000" stroke-width="1.27" stroke-linecap="square"/>
<text x="62.60" y="670.50">raw</text>
<line x1="39.00" y1="680.30" x2="55.20" y2="680.30" stroke="#000" stroke-width="1.27" stroke-linecap="butt" stroke-dasharray="1.27 2.10"/>
<text x="62.60" y="683.20">aleatoric adjusted</text>
<line x1="39.00" y1="693.00" x2="55.20" y2="693.00" stroke="#000" stroke-width="1.27" stroke-linecap="butt" stroke-dasharray="4.70 2.03"/>
<text x="62.60" y="695.90">epistemic adjusted</text>
</g>
<g>
<g fill="none" stroke="#000" stroke-width="1.27" stroke-linejoin="round">
<path d="M411.90 922.40 L412.89 922.40 L413.88 922.40 L414.88 922.40 L415.87 922.40 L416.86 922.40 L417.85 922.40 L418.84 922.40 L419.83 922.40 L420.83 922.40 L421.82 922.40 L422.81 922.40 L423.80 922.40 L424.79 922.40 L425.78 922.40 L426.78 922.40 L427.77 922.40 L428.76 922.40 L429.75 922.40 L430.74 922.40 L431.73 922.40 L432.73 922.40 L433.72 922.40 L434.71 922.40 L435.70 922.40 L436.69 922.40 L437.69 922.40 L438.68 922.40 L439.67 922.40 L440.66 922.40 L441.65 922.40 L442.64 922.40 L443.64 922.40 L444.63 922.40 L445.62 922.40 L446.61 922.40 L447.60 922.40 L448.59 922.40 L449.59 922.40 L450.58 922.40 L451.57 922.40 L452.56 922.40 L453.55 922.40 L454.54 922.40 L455.54 922.40 L456.53 922.40 L457.52 922.40 L458.51 922.40 L459.50 922.40 L460.50 922.40 L461.49 922.40 L462.48 922.40 L463.47 922.40 L464.46 922.40 L465.45 922.40 L466.45 922.40 L467.44 922.40 L468.43 922.40 L469.42 922.40 L470.41 922.40 L471.40 922.40 L472.40 922.40 L473.39 922.40 L474.38 922.40 L475.37 922.40 L476.36 922.40 L477.36 922.40 L478.35 922.40 L479.34 922.40 L480.33 922.40 L481.32 922.40 L482.31 922.40 L483.31 922.40 L484.30 922.40 L485.29 922.40 L486.28 922.40 L487.27 922.40 L488.26 922.40 L489.26 922.40 L490.25 922.40 L491.24 922.40 L492.23 922.40 L493.22 922.40 L494.21 922.40 L495.21 922.40 L496.20 922.40 L497.19 922.40 L498.18 922.40 L499.17 922.40 L500.17 922.40 L501.16 922.40 L502.15 922.40 L503.14 922.40 L504.13 922.40 L505.12 922.40 L506.12 922.40 L507.11 922.40 L508.10 922.40 L509.09 922.40 L510.08 922.40 L511.07 922.40 L512.07 922.40 L513.06 922.40 L514.05 922.40 L515.04 922.40 L516.03 922.40 L517.02 922.40 L518.02 922.40 L519.01 922.40 L520.00 922.40 L521.00 922.40 L522.00 922.40 L523.00 922.40 L524.00 922.39 L525.00 922.39 L526.00 922.38 L527.00 922.38 L528.00 922.37 L529.00 922.36 L530.00 922.35 L531.00 922.34 L532.00 922.33 L533.00 922.32 L534.00 922.30 L535.00 922.29 L536.00 922.27 L537.00 922.26 L538.00 922.24 L539.00 922.22 L540.00 922.20 L541.00 922.16 L542.00 922.09 L543.00 922.00 L544.00 921.88 L545.00 921.75 L546.00 921.60 L547.00 921.45 L548.00 921.30 L548.97 921.14 L549.93 920.95 L550.90 920.73 L551.87 920.50 L552.83 920.25 L553.80 919.99 L554.77 919.73 L555.73 919.46 L556.70 919.20 L557.61 918.95 L558.53 918.69 L559.44 918.42 L560.35 918.14 L561.26 917.86 L562.17 917.58 L563.09 917.29 L564.00 917.00 L565.00 916.69 L566.00 916.38 L567.00 916.07 L568.00 915.75 L569.00 915.39 L570.00 915.00 L570.98 914.57 L571.96 914.10 L572.93 913.60 L573.91 913.05 L574.89 912.48 L575.87 911.87 L576.84 911.24 L577.82 910.58 L578.80 909.90 L579.77 909.19 L580.73 908.44 L581.70 907.64 L582.67 906.80 L583.63 905.92 L584.60 905.00 L585.57 904.04 L586.53 903.04 L587.50 902.00 L588.38 901.00 L589.27 899.92 L590.15 898.78 L591.03 897.58 L591.92 896.32 L592.80 895.00 L593.67 893.64 L594.55 892.19 L595.42 890.62 L596.30 888.90 L597.17 886.96 L598.05 884.80 L598.92 882.49 L599.80 880.10 L602.40 872.30 L605.00 862.60 L608.10 850.00 L610.80 833.00 L613.50 815.00 L616.20 795.00 L618.10 769.30 L620.30 736.20 L622.30 700.10 L623.80 674.50 L626.40 668.80 L628.60 682.10 L630.90 703.10 L633.10 722.70 L635.40 751.20 L637.30 778.30 L638.70 800.00 L640.60 829.00 L643.80 875.00 L646.00 911.00 L647.00 923.00 L650.00 926.20 L650.97 926.20 L651.95 926.20 L652.92 926.20 L653.89 926.20 L654.86 926.20 L655.84 926.20 L656.81 926.20 L657.78 926.20 L658.75 926.20 L659.73 926.20 L660.70 926.20 L661.67 926.20 L662.65 926.20 L663.62 926.20 L664.59 926.20 L665.56 926.20 L666.54 926.20 L667.51 926.20 L668.48 926.20 L669.45 926.20 L670.43 926.20 L671.40 926.20" stroke-linecap="square"/>
<path d="M411.90 922.40 L412.89 922.40 L413.88 922.40 L414.87 922.40 L415.85 922.40 L416.84 922.40 L417.83 922.40 L418.82 922.40 L419.81 922.40 L420.80 922.40 L421.79 922.40 L422.77 922.40 L423.76 922.40 L424.75 922.40 L425.74 922.40 L426.73 922.40 L427.72 922.40 L428.71 922.40 L429.69 922.40 L430.68 922.40 L431.67 922.40 L432.66 922.40 L433.65 922.39 L434.64 922.39 L435.63 922.39 L436.62 922.39 L437.60 922.39 L438.59 922.39 L439.58 922.39 L440.57 922.39 L441.56 922.39 L442.55 922.39 L443.54 922.39 L444.52 922.39 L445.51 922.39 L446.50 922.39 L447.49 922.38 L448.48 922.38 L449.47 922.38 L450.46 922.38 L451.44 922.38 L452.43 922.38 L453.42 922.38 L454.41 922.38 L455.40 922.37 L456.39 922.37 L457.38 922.37 L458.36 922.37 L459.35 922.37 L460.34 922.37 L461.33 922.37 L462.32 922.36 L463.31 922.36 L464.30 922.36 L465.28 922.36 L466.27 922.36 L467.26 922.36 L468.25 922.35 L469.24 922.35 L470.23 922.35 L471.22 922.35 L472.21 922.35 L473.19 922.34 L474.18 922.34 L475.17 922.34 L476.16 922.34 L477.15 922.34 L478.14 922.33 L479.13 922.33 L480.11 922.33 L481.10 922.33 L482.09 922.32 L483.08 922.32 L484.07 922.32 L485.06 922.31 L486.05 922.31 L487.03 922.31 L488.02 922.31 L489.01 922.30 L490.00 922.30 L491.00 922.29 L492.00 922.28 L493.00 922.27 L494.00 922.25 L495.00 922.23 L496.00 922.20 L497.00 922.18 L498.00 922.15 L499.00 922.13 L500.00 922.10 L501.00 922.07 L502.00 922.05 L503.00 922.02 L504.00 921.99 L505.00 921.96 L506.00 921.93 L507.00 921.90 L508.00 921.87 L509.00 921.84 L510.00 921.80 L511.00 921.76 L512.00 921.72 L513.00 921.68 L514.00 921.63 L515.00 921.59 L516.00 921.54 L517.00 921.48 L518.00 921.42 L519.00 921.36 L520.00 921.30 L521.00 921.22 L522.00 921.13 L523.00 921.02 L524.00 920.89 L525.00 920.74 L526.00 920.58 L527.00 920.41 L528.00 920.23 L529.00 920.03 L530.00 919.83 L531.00 919.62 L532.00 919.40 L533.00 919.18 L534.00 918.96 L535.00 918.73 L536.00 918.50 L537.00 918.27 L538.00 918.04 L539.00 917.82 L540.00 917.60 L541.00 917.38 L542.00 917.16 L543.00 916.92 L544.00 916.68 L545.00 916.43 L546.00 916.17 L547.00 915.89 L548.00 915.60 L549.00 915.29 L550.00 914.97 L551.00 914.63 L552.00 914.28 L553.00 913.92 L554.00 913.55 L555.00 913.16 L556.00 912.76 L557.00 912.36 L558.00 911.94 L559.00 911.52 L560.00 911.09 L561.00 910.66 L562.00 910.21 L563.00 909.77 L564.00 909.32 L565.00 908.87 L566.00 908.41 L567.00 907.96 L568.00 907.50 L568.98 907.06 L569.96 906.62 L570.95 906.18 L571.93 905.73 L572.91 905.27 L573.89 904.80 L574.87 904.31 L575.85 903.78 L576.84 903.23 L577.82 902.64 L578.80 902.00 L579.77 901.30 L580.73 900.51 L581.70 899.64 L582.67 898.71 L583.63 897.73 L584.60 896.73 L585.57 895.71 L586.53 894.70 L587.50 893.70 L588.38 892.80 L589.27 891.88 L590.15 890.95 L591.03 889.99 L591.92 889.01 L592.80 888.00 L593.67 886.98 L594.55 885.93 L595.42 884.82 L596.30 883.60 L597.17 882.25 L598.05 880.77 L598.92 879.18 L599.80 877.50 L600.67 875.65 L601.55 873.62 L602.42 871.56 L603.30 869.60 L604.17 867.81 L605.05 866.10 L605.92 864.39 L606.80 862.60 L607.72 860.65 L608.63 858.67 L609.55 856.65 L610.47 854.55 L611.38 852.34 L612.30 850.00 L614.00 845.00 L614.90 841.57 L615.80 837.63 L616.70 833.40 L617.60 829.11 L618.50 825.00 L619.42 820.99 L620.35 817.02 L621.28 813.04 L622.20 809.00 L625.30 795.00 L627.40 775.30 L630.10 748.20 L632.40 730.20 L634.60 712.10 L636.90 692.60 L638.70 679.80 L640.30 674.50 L642.90 680.60 L645.20 692.60 L648.20 707.60 L651.20 724.20 L653.40 742.20 L655.70 763.30 L657.50 782.80 L659.00 800.00 L661.00 815.00 L663.40 835.00 L666.00 855.00 L668.00 875.00 L670.00 895.00 L671.00 906.00" stroke-linecap="butt" stroke-dasharray="1.27 2.10"/>
<path d="M411.90 922.40 L412.89 922.40 L413.88 922.40 L414.87 922.40 L415.85 922.40 L416.84 922.40 L417.83 922.40 L418.82 922.40 L419.81 922.40 L420.80 922.40 L421.79 922.40 L422.77 922.40 L423.76 922.40 L424.75 922.40 L425.74 922.40 L426.73 922.40 L427.72 922.40 L428.71 922.40 L429.69 922.40 L430.68 922.40 L431.67 922.40 L432.66 922.40 L433.65 922.40 L434.64 922.39 L435.63 922.39 L436.62 922.39 L437.60 922.39 L438.59 922.39 L439.58 922.39 L440.57 922.39 L441.56 922.39 L442.55 922.39 L443.54 922.39 L444.52 922.39 L445.51 922.39 L446.50 922.39 L447.49 922.39 L448.48 922.38 L449.47 922.38 L450.46 922.38 L451.44 922.38 L452.43 922.38 L453.42 922.38 L454.41 922.38 L455.40 922.38 L456.39 922.37 L457.38 922.37 L458.36 922.37 L459.35 922.37 L460.34 922.37 L461.33 922.37 L462.32 922.37 L463.31 922.36 L464.30 922.36 L465.28 922.36 L466.27 922.36 L467.26 922.36 L468.25 922.36 L469.24 922.35 L470.23 922.35 L471.22 922.35 L472.21 922.35 L473.19 922.35 L474.18 922.34 L475.17 922.34 L476.16 922.34 L477.15 922.34 L478.14 922.33 L479.13 922.33 L480.11 922.33 L481.10 922.33 L482.09 922.32 L483.08 922.32 L484.07 922.32 L485.06 922.32 L486.05 922.31 L487.03 922.31 L488.02 922.31 L489.01 922.30 L490.00 922.30 L491.00 922.29 L492.00 922.28 L493.00 922.25 L494.00 922.22 L495.00 922.19 L496.00 922.16 L497.00 922.12 L498.00 922.08 L499.00 922.04 L500.00 922.00 L501.00 921.96 L502.00 921.93 L503.00 921.89 L504.00 921.85 L505.00 921.82 L506.00 921.78 L507.00 921.74 L508.00 921.70 L509.00 921.65 L510.00 921.61 L511.00 921.56 L512.00 921.51 L513.00 921.46 L514.00 921.41 L515.00 921.35 L516.00 921.29 L517.00 921.22 L518.00 921.15 L519.00 921.08 L520.00 921.00 L521.00 920.91 L522.00 920.80 L523.00 920.67 L524.00 920.52 L525.00 920.36 L526.00 920.19 L527.00 920.00 L528.00 919.80 L529.00 919.58 L530.00 919.36 L531.00 919.14 L532.00 918.90 L533.00 918.67 L534.00 918.43 L535.00 918.19 L536.00 917.94 L537.00 917.70 L538.00 917.46 L539.00 917.23 L540.00 917.00 L541.00 916.77 L542.00 916.54 L543.00 916.30 L544.00 916.06 L545.00 915.81 L546.00 915.55 L547.00 915.28 L548.00 915.00 L549.00 914.71 L550.00 914.41 L551.00 914.10 L552.00 913.78 L553.00 913.45 L554.00 913.11 L555.00 912.75 L556.00 912.38 L557.00 912.00 L558.00 911.60 L559.00 911.18 L560.00 910.73 L561.00 910.26 L562.00 909.77 L563.00 909.26 L564.00 908.73 L565.00 908.19 L566.00 907.63 L567.00 907.07 L568.00 906.50 L568.98 905.93 L569.96 905.36 L570.95 904.78 L571.93 904.18 L572.91 903.57 L573.89 902.94 L574.87 902.28 L575.85 901.61 L576.84 900.90 L577.82 900.17 L578.80 899.40 L579.77 898.60 L580.73 897.75 L581.70 896.86 L582.67 895.92 L583.63 894.95 L584.60 893.93 L585.57 892.89 L586.53 891.81 L587.50 890.70 L588.38 889.65 L589.27 888.55 L590.15 887.39 L591.03 886.19 L591.92 884.92 L592.80 883.60 L593.67 882.20 L594.55 880.70 L595.42 879.12 L596.30 877.50 L597.17 875.80 L598.05 874.00 L598.92 872.20 L599.80 870.50 L600.67 868.94 L601.55 867.45 L602.42 865.97 L603.30 864.40 L606.50 858.00 L607.50 856.21 L608.50 854.54 L609.50 852.73 L610.50 850.50 L611.50 847.39 L612.50 843.46 L613.50 839.16 L614.50 835.00 L615.38 831.56 L616.25 828.12 L617.12 824.61 L618.00 821.00 L618.90 817.09 L619.80 813.04 L620.70 808.96 L621.60 805.00 L624.00 795.00 L626.40 775.30 L629.40 748.20 L631.60 730.20 L633.90 712.10 L636.10 695.60 L637.90 685.10 L639.40 679.80 L641.40 685.10 L644.40 700.10 L646.70 715.20 L648.50 730.20 L650.40 751.20 L652.70 775.30 L655.40 800.00 L656.30 804.42 L657.20 807.80 L658.10 811.03 L659.00 815.00 L662.00 835.00 L665.00 855.00 L668.00 875.00 L670.40 893.00 L671.40 895.00" stroke-linecap="butt" stroke-dasharray="4.70 2.03"/>
</g>
<rect x="399.2" y="656.3" width="285.00" height="282.90" fill="none" stroke="#000" stroke-width="0.78"/>
<g stroke="#000" stroke-width="0.85">
<line x1="411.90" y1="939.2" x2="411.90" y2="942.4000000000001"/>
<line x1="463.80" y1="939.2" x2="463.80" y2="942.4000000000001"/>
<line x1="515.70" y1="939.2" x2="515.70" y2="942.4000000000001"/>
<line x1="567.60" y1="939.2" x2="567.60" y2="942.4000000000001"/>
<line x1="619.50" y1="939.2" x2="619.50" y2="942.4000000000001"/>
<line x1="671.40" y1="939.2" x2="671.40" y2="942.4000000000001"/>
<line x1="399.2" y1="926.5" x2="396.0" y2="926.5"/>
<line x1="399.2" y1="867.2" x2="396.0" y2="867.2"/>
<line x1="399.2" y1="807.9" x2="396.0" y2="807.9"/>
<line x1="399.2" y1="748.6" x2="396.0" y2="748.6"/>
<line x1="399.2" y1="689.3" x2="396.0" y2="689.3"/>
</g>
<g text-anchor="middle" font-size="8.3">
<text x="411.55" y="952.20">0.0</text>
<text x="463.45" y="952.20">0.2</text>
<text x="515.35" y="952.20">0.4</text>
<text x="567.25" y="952.20">0.6</text>
<text x="619.15" y="952.20">0.8</text>
<text x="671.05" y="952.20">1.0</text>
</g>
<g text-anchor="middle">
<text x="541.30" y="963.50">Threshold</text>
<text transform="translate(373.7 798.95) rotate(-90)">F1-Score</text>
</g>
<g text-anchor="end" font-size="8.3">
<text x="392.60" y="929.60">0.0</text>
<text x="392.60" y="870.30">0.1</text>
<text x="392.60" y="811.00">0.2</text>
<text x="392.60" y="751.70">0.3</text>
<text x="392.60" y="692.40">0.4</text>
</g>
<rect x="403.30" y="660.80" width="111.8" height="40.6" rx="1.7" fill="#fff" fill-opacity="0.8" stroke="#ccc" stroke-opacity="0.8" stroke-width="0.93"/>
<line x1="406.80" y1="667.60" x2="423.00" y2="667.60" stroke="#000" stroke-width="1.27" stroke-linecap="square"/>
<text x="430.40" y="670.50">raw</text>
<line x1="406.80" y1="680.30" x2="423.00" y2="680.30" stroke="#000" stroke-width="1.27" stroke-linecap="butt" stroke-dasharray="1.27 2.10"/>
<text x="430.40" y="683.20">aleatoric adjusted</text>
<line x1="406.80" y1="693.00" x2="423.00" y2="693.00" stroke="#000" stroke-width="1.27" stroke-linecap="butt" stroke-dasharray="4.70 2.03"/>
<text x="430.40" y="695.90">epistemic adjusted</text>
</g>
</svg>
</body></html>
